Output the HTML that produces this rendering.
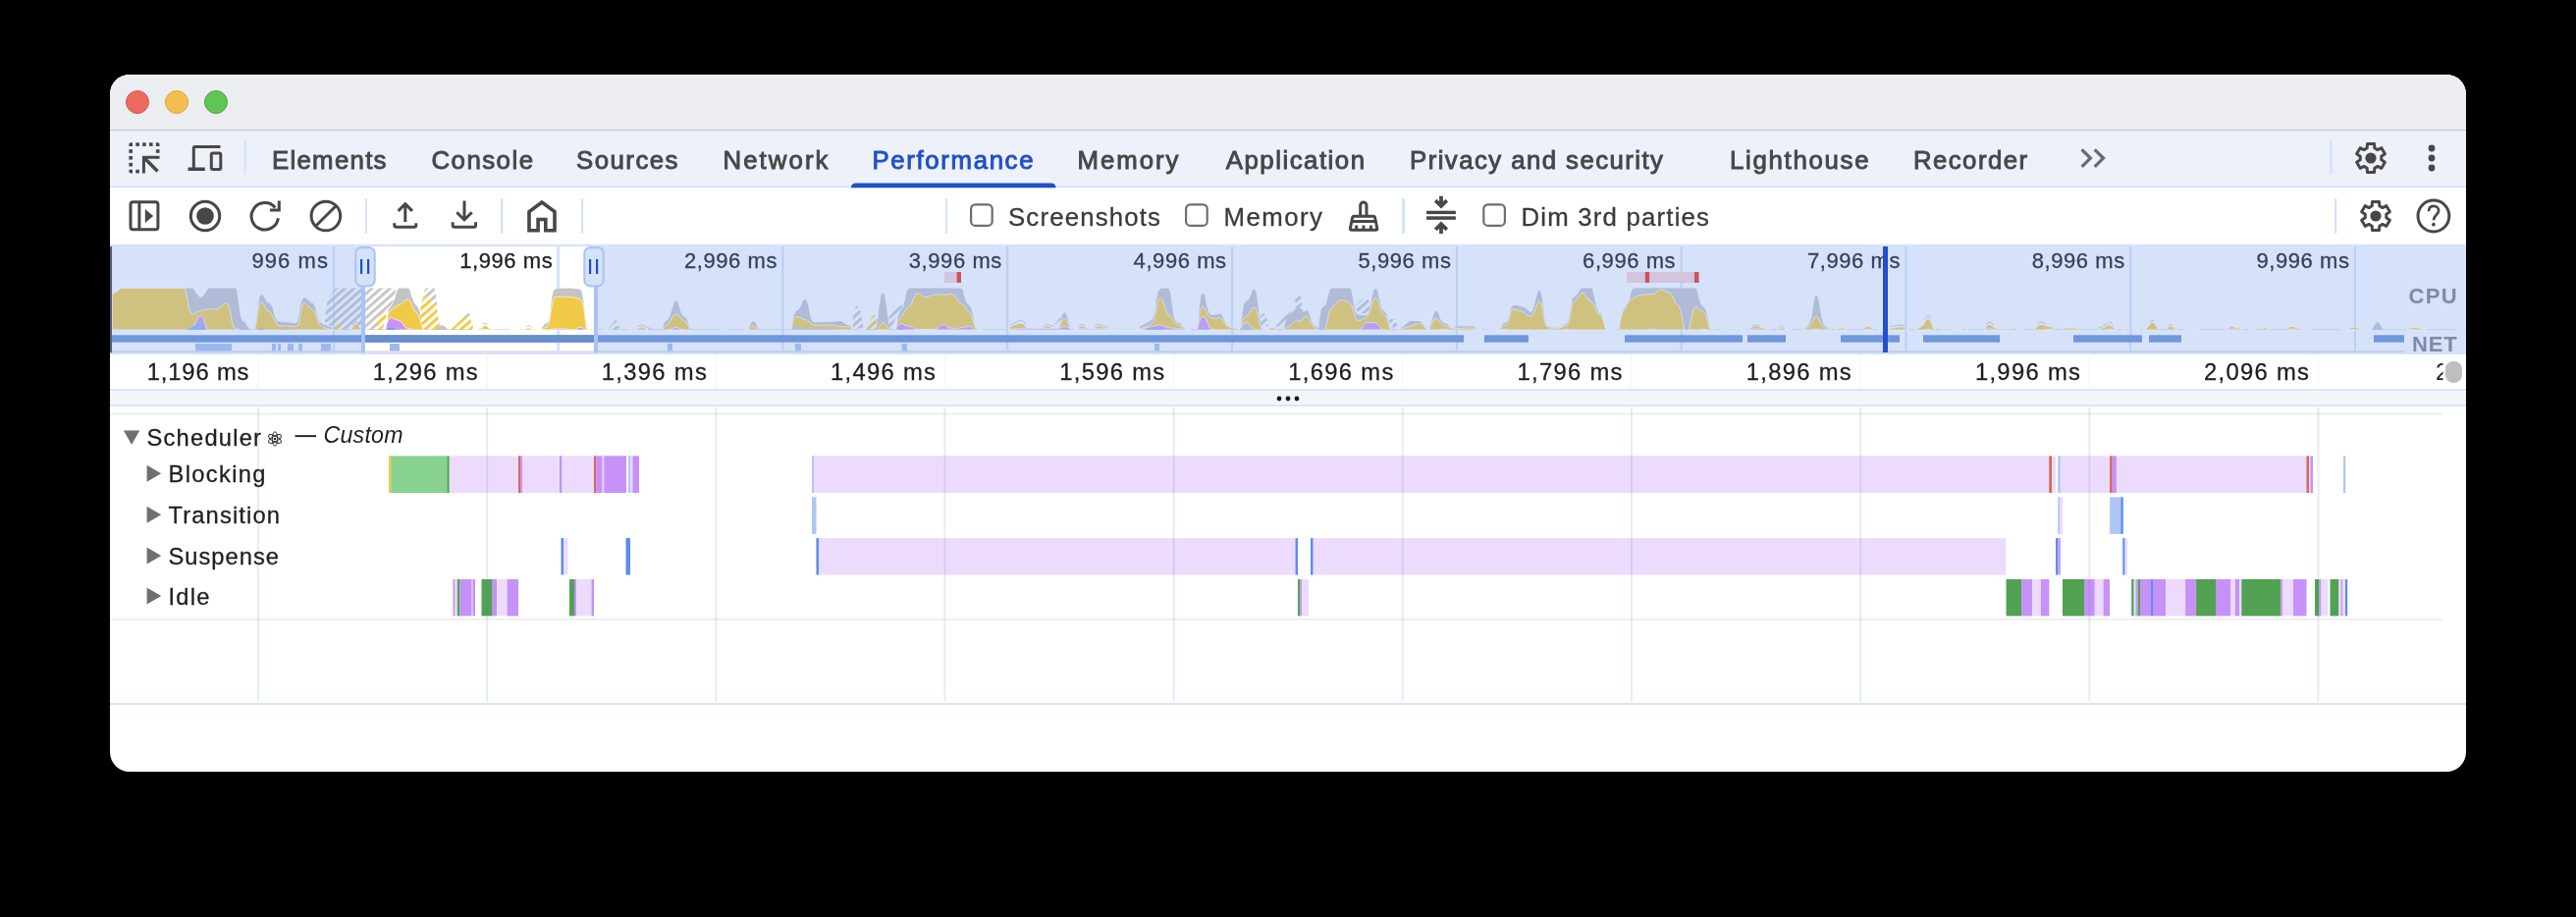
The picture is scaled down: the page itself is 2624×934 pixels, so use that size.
<!DOCTYPE html>
<html lang="en"><head><meta charset="utf-8"><title>DevTools - Performance</title>
<style>
html,body{margin:0;padding:0;background:#000;width:2624px;height:934px;overflow:hidden}
svg{display:block;position:absolute;left:0;top:0;will-change:transform}
text{font-family:'Liberation Sans',sans-serif;white-space:pre}
</style></head><body>
<svg width="2624" height="934" viewBox="0 0 2624 934">
<defs>
<clipPath id="win"><rect x="112" y="76" width="2400" height="710" rx="20" ry="20"/></clipPath>
<clipPath id="sel"><rect x="372" y="251" width="233.3" height="110"/></clipPath>
<clipPath id="unselL"><rect x="112" y="249" width="260" height="112"/></clipPath>
<clipPath id="unselR"><rect x="605.3" y="249" width="1907" height="112"/></clipPath>
<pattern id="hatchU" width="6.1" height="6.1" patternUnits="userSpaceOnUse" patternTransform="rotate(-41.6)"><rect x="0" y="0" width="6.1" height="3.0" fill="#b0bdd9"/></pattern>
<pattern id="hatchS" width="6.1" height="6.1" patternUnits="userSpaceOnUse" patternTransform="rotate(-41.6)"><rect x="0" y="0" width="6.1" height="3.0" fill="#c6c6c6"/></pattern>
<pattern id="hatchSY" width="6.1" height="6.1" patternUnits="userSpaceOnUse" patternTransform="rotate(-41.6)"><rect x="0" y="0" width="6.1" height="3.0" fill="#f0ca46"/></pattern>
<pattern id="hatchUY" width="6.1" height="6.1" patternUnits="userSpaceOnUse" patternTransform="rotate(-41.6)"><rect x="0" y="0" width="6.1" height="3.0" fill="#cfc080"/></pattern>
</defs>
<rect x="0" y="0" width="2624" height="934" fill="#000"/>
<g clip-path="url(#win)">

<rect x="112" y="76" width="2400" height="710" fill="#fff"/>
<rect x="112" y="76" width="2400" height="56.5" fill="#ecedf1"/>
<rect x="112" y="132" width="2400" height="1.5" fill="#c9cbd1"/>
<rect x="112" y="76" width="2400" height="1.2" fill="#f7f8fa"/>
<circle cx="140" cy="104" r="11.5" fill="#ed6a5e" stroke="#d8564b" stroke-width="1"/>
<circle cx="180" cy="104" r="11.5" fill="#f5bf4f" stroke="#dba33b" stroke-width="1"/>
<circle cx="220" cy="104" r="11.5" fill="#61c554" stroke="#4ea73f" stroke-width="1"/>
<rect x="112" y="133.5" width="2400" height="56.5" fill="#edf1fa"/>
<rect x="112" y="189.3" width="2400" height="1.9" fill="#d3e3fd"/>
<g fill="none" stroke="#474747" stroke-width="3">
<path d="M135.00 148.90 L131.40 148.90 L131.40 147.10 Q131.40 145.30 133.20 145.30 L135.00 145.30 Z" fill="#474747" stroke="none"/>
<rect x="138.3" y="145.3" width="3.6" height="3.6" fill="#474747" stroke="none"/>
<rect x="145.1" y="145.3" width="3.6" height="3.6" fill="#474747" stroke="none"/>
<rect x="152.0" y="145.3" width="3.6" height="3.6" fill="#474747" stroke="none"/>
<path d="M158.90 148.90 L162.50 148.90 L162.50 147.10 Q162.50 145.30 160.70 145.30 L158.90 145.30 Z" fill="#474747" stroke="none"/>
<rect x="131.4" y="152.2" width="3.6" height="3.6" fill="#474747" stroke="none"/>
<rect x="131.4" y="159.0" width="3.6" height="3.6" fill="#474747" stroke="none"/>
<rect x="131.4" y="165.9" width="3.6" height="3.6" fill="#474747" stroke="none"/>
<path d="M135.00 172.80 L131.40 172.80 L131.40 174.60 Q131.40 176.40 133.20 176.40 L135.00 176.40 Z" fill="#474747" stroke="none"/>
<rect x="158.9" y="152.2" width="3.6" height="3.6" fill="#474747" stroke="none"/>
<rect x="138.3" y="172.8" width="3.6" height="3.6" fill="#474747" stroke="none"/>
<path d="M162.5 160.3 H146.4 V176.6" stroke-linejoin="miter" stroke-width="3"/>
<path d="M147.4 161.3 L160.6 174.5" stroke-width="3.4"/>
</g>
<g fill="none" stroke="#474747" stroke-width="3" stroke-linejoin="miter">
<path d="M224.4 149.5 H198.7 Q197.3 149.5 197.3 151 V171"/>
<path d="M191.5 172.2 H208.8" stroke-width="3.5"/>
<rect x="215.3" y="155.9" width="9.5" height="16.5" rx="1.5"/>
</g>
<rect x="248.6" y="143.5" width="2.4" height="34" fill="#d3e3fd"/>
<text x="277" y="171.7" font-size="25.8" fill="#474747" text-anchor="start" font-weight="normal" font-style="normal" textLength="116.5" lengthAdjust="spacing" stroke="#474747" stroke-width="0.9">Elements</text>
<text x="439.5" y="171.7" font-size="25.8" fill="#474747" text-anchor="start" font-weight="normal" font-style="normal" textLength="103.5" lengthAdjust="spacing" stroke="#474747" stroke-width="0.9">Console</text>
<text x="587" y="171.7" font-size="25.8" fill="#474747" text-anchor="start" font-weight="normal" font-style="normal" textLength="103.5" lengthAdjust="spacing" stroke="#474747" stroke-width="0.9">Sources</text>
<text x="736.5" y="171.7" font-size="25.8" fill="#474747" text-anchor="start" font-weight="normal" font-style="normal" textLength="107.0" lengthAdjust="spacing" stroke="#474747" stroke-width="0.9">Network</text>
<text x="888.5" y="171.7" font-size="25.8" fill="#2050c8" text-anchor="start" font-weight="normal" font-style="normal" textLength="164.0" lengthAdjust="spacing" stroke="#2050c8" stroke-width="0.9">Performance</text>
<text x="1097.5" y="171.7" font-size="25.8" fill="#474747" text-anchor="start" font-weight="normal" font-style="normal" textLength="103.0" lengthAdjust="spacing" stroke="#474747" stroke-width="0.9">Memory</text>
<text x="1248.8" y="171.7" font-size="25.8" fill="#474747" text-anchor="start" font-weight="normal" font-style="normal" textLength="141.2" lengthAdjust="spacing" stroke="#474747" stroke-width="0.9">Application</text>
<text x="1436" y="171.7" font-size="25.8" fill="#474747" text-anchor="start" font-weight="normal" font-style="normal" textLength="258.0" lengthAdjust="spacing" stroke="#474747" stroke-width="0.9">Privacy and security</text>
<text x="1762" y="171.7" font-size="25.8" fill="#474747" text-anchor="start" font-weight="normal" font-style="normal" textLength="141.5" lengthAdjust="spacing" stroke="#474747" stroke-width="0.9">Lighthouse</text>
<text x="1949" y="171.7" font-size="25.8" fill="#474747" text-anchor="start" font-weight="normal" font-style="normal" textLength="116.0" lengthAdjust="spacing" stroke="#474747" stroke-width="0.9">Recorder</text>
<path d="M866.8 191.2 Q867.2 186.6 872 186.6 H1070.4 Q1075.2 186.6 1075.6 191.2 Z" fill="#2050c8"/>
<path d="M2120.6 152.3 L2129.4 161.1 L2120.6 169.9" fill="none" stroke="#6b6b6b" stroke-width="3.3"/>
<path d="M2133.7 152.3 L2142.5 161.1 L2133.7 169.9" fill="none" stroke="#6b6b6b" stroke-width="3.3"/>
<rect x="2373.2" y="143.5" width="2.6" height="34" fill="#d3e3fd"/>
<path d="M2418.82 150.79 L2418.50 146.41 L2411.50 146.41 L2411.18 150.79 L2408.07 152.59 L2404.12 150.67 L2400.62 156.74 L2404.25 159.20 L2404.25 162.80 L2400.62 165.26 L2404.12 171.33 L2408.07 169.41 L2411.18 171.21 L2411.50 175.59 L2418.50 175.59 L2418.82 171.21 L2421.93 169.41 L2425.88 171.33 L2429.38 165.26 L2425.75 162.80 L2425.75 159.20 L2429.38 156.74 L2425.88 150.67 L2421.93 152.59 Z" fill="none" stroke="#474747" stroke-width="3" stroke-linejoin="round"/>
<circle cx="2415" cy="161" r="5.6" fill="#474747"/>
<circle cx="2477" cy="151" r="3.4" fill="#474747"/>
<circle cx="2477" cy="161" r="3.4" fill="#474747"/>
<circle cx="2477" cy="171" r="3.4" fill="#474747"/>
<rect x="133" y="205.8" width="27.9" height="28" rx="2.5" fill="none" stroke="#474747" stroke-width="3"/>
<path d="M141.9 206 V233.6" fill="none" stroke="#474747" stroke-width="3"/>
<path d="M147.8 213 L156.2 220 L147.8 227 Z" fill="#474747"/>
<circle cx="209" cy="220" r="14.7" fill="none" stroke="#474747" stroke-width="3"/>
<circle cx="209" cy="220" r="8.8" fill="#474747"/>
<path d="M280.29 211.49 A13.7 13.7 0 1 0 283.37 222.21" fill="none" stroke="#474747" stroke-width="3"/>
<path d="M284.3 204.6 V214 H274.9" fill="none" stroke="#474747" stroke-width="3" stroke-linejoin="miter"/>
<circle cx="331.9" cy="220" r="14.8" fill="none" stroke="#474747" stroke-width="3"/>
<path d="M321.6 230.3 L342.2 209.7" fill="none" stroke="#474747" stroke-width="3"/>
<rect x="371.8" y="202.2" width="2.2" height="35.6" fill="#d3e3fd"/>
<rect x="510" y="202.2" width="2.2" height="35.6" fill="#d3e3fd"/>
<rect x="592" y="202.2" width="2.2" height="35.6" fill="#d3e3fd"/>
<path d="M412.8 226 V207.5 M405.6 214.9 L412.8 207.7 L420 214.9" fill="none" stroke="#474747" stroke-width="3"/>
<path d="M401.8 227.2 V229.3 Q401.8 231.3 403.8 231.3 H421.8 Q423.8 231.3 423.8 229.3 V227.2" fill="none" stroke="#474747" stroke-width="3"/>
<path d="M473 204.4 V223.5 M465.3 216.3 L473 224 L480.7 216.3" fill="none" stroke="#474747" stroke-width="3"/>
<path d="M461.2 226.3 V229.3 Q461.2 231.3 463.2 231.3 H482.6 Q484.6 231.3 484.6 229.3 V226.3" fill="none" stroke="#474747" stroke-width="3" stroke-width="3.2"/>
<path d="M539 234.8 V215.6 L552 206 L565 215.6 V234.8 H555.8 V223.5 H548.1 V234.8 Z" fill="none" stroke="#474747" stroke-width="3.6" stroke-linejoin="miter"/>
<rect x="963" y="202.2" width="2.2" height="35.6" fill="#d3e3fd"/>
<rect x="989.1" y="208.3" width="21.6" height="21.6" rx="4.5" fill="#fff" stroke="#6e6e6e" stroke-width="2.2"/>
<text x="1027" y="229.5" font-size="25.8" fill="#3b3b3b" text-anchor="start" font-weight="normal" font-style="normal" textLength="155.0" lengthAdjust="spacing" stroke="#3b3b3b" stroke-width="0.3">Screenshots</text>
<rect x="1208.1" y="208.3" width="21.6" height="21.6" rx="4.5" fill="#fff" stroke="#6e6e6e" stroke-width="2.2"/>
<text x="1246.5" y="229.5" font-size="25.8" fill="#3b3b3b" text-anchor="start" font-weight="normal" font-style="normal" textLength="100.5" lengthAdjust="spacing" stroke="#3b3b3b" stroke-width="0.3">Memory</text>
<g fill="none" stroke="#474747" stroke-width="3" stroke-linejoin="round" stroke-linecap="round">
<path d="M1385.7 219.5 V209.2 A3.15 3.15 0 0 1 1392 209.2 V219.5"/>
<path d="M1379.5 220.2 H1398.7 Q1400.3 220.2 1400.6 221.8 L1402.8 232.5 Q1403.1 234.2 1401.4 234.2 H1376.8 Q1375.1 234.2 1375.4 232.5 L1377.6 221.8 Q1377.9 220.2 1379.5 220.2 Z"/>
<path d="M1377.3 225.5 H1400.9" stroke-linecap="butt"/>
<path d="M1381.7 229.5 V233 M1389 229.5 V233 M1396.4 229.5 V233" stroke-linecap="butt"/>
</g>
<rect x="1428" y="202.2" width="3" height="35.6" fill="#d3e3fd"/>
<rect x="1453.1" y="214.7" width="29.8" height="3.4" fill="#474747"/>
<rect x="1453.1" y="220.3" width="29.8" height="3.5" fill="#474747"/>
<path d="M1468 199.7 V210 M1462.2 204.1 L1468 209.9 L1473.8 204.1" fill="none" stroke="#474747" stroke-width="3.8"/>
<path d="M1468 238.1 V228 M1462.2 233.9 L1468 228.1 L1473.8 233.9" fill="none" stroke="#474747" stroke-width="3.8"/>
<rect x="1511.3" y="208.3" width="21.6" height="21.6" rx="4.5" fill="#fff" stroke="#6e6e6e" stroke-width="2.2"/>
<text x="1549.5" y="229.5" font-size="25.8" fill="#3b3b3b" text-anchor="start" font-weight="normal" font-style="normal" textLength="191.5" lengthAdjust="spacing" stroke="#3b3b3b" stroke-width="0.3">Dim 3rd parties</text>
<rect x="2378" y="202.2" width="2.2" height="35.6" fill="#d3e3fd"/>
<path d="M2423.82 209.79 L2423.50 205.41 L2416.50 205.41 L2416.18 209.79 L2413.07 211.59 L2409.12 209.67 L2405.62 215.74 L2409.25 218.20 L2409.25 221.80 L2405.62 224.26 L2409.12 230.33 L2413.07 228.41 L2416.18 230.21 L2416.50 234.59 L2423.50 234.59 L2423.82 230.21 L2426.93 228.41 L2430.88 230.33 L2434.38 224.26 L2430.75 221.80 L2430.75 218.20 L2434.38 215.74 L2430.88 209.67 L2426.93 211.59 Z" fill="none" stroke="#474747" stroke-width="3" stroke-linejoin="round"/>
<circle cx="2420" cy="220" r="5.6" fill="#474747"/>
<circle cx="2478.9" cy="220" r="15.9" fill="none" stroke="#474747" stroke-width="3"/>
<path d="M2474 215.3 C2474 211.6 2476 209.9 2479 209.9 C2482 209.9 2484.1 211.8 2484.1 214.5 C2484.1 218.8 2478.9 219.2 2478.9 224.3" fill="none" stroke="#474747" stroke-width="2.7"/>
<circle cx="2478.9" cy="228.7" r="1.9" fill="#474747"/>
<rect x="112" y="248.8" width="2400" height="112.2" fill="#d6e2fa"/>
<rect x="372" y="251" width="233.3" height="108.2" fill="#fff"/>
<rect x="112" y="357" width="2337" height="2.2" fill="#c4d0e9"/>
<rect x="372" y="357" width="233.3" height="2.2" fill="#e2e2e2"/>
<rect x="338.9" y="251" width="2" height="108" fill="#b8cef8"/>
<rect x="567.1" y="251" width="3" height="108" fill="#d6e3fc"/>
<rect x="796.5" y="251" width="2" height="108" fill="#b8cef8"/>
<rect x="1025.3" y="251" width="2" height="108" fill="#b8cef8"/>
<rect x="1254.1" y="251" width="2" height="108" fill="#b8cef8"/>
<rect x="1482.9" y="251" width="2" height="108" fill="#b8cef8"/>
<rect x="1711.6" y="251" width="2" height="108" fill="#b8cef8"/>
<rect x="1940.4" y="251" width="2" height="108" fill="#b8cef8"/>
<rect x="2169.2" y="251" width="2" height="108" fill="#b8cef8"/>
<rect x="2398.0" y="251" width="2" height="108" fill="#b8cef8"/>
<text x="256.4" y="273" font-size="22" fill="#36425c" text-anchor="start" font-weight="normal" font-style="normal" textLength="77.5" lengthAdjust="spacing" stroke="#36425c" stroke-width="0.3">996 ms</text>
<text x="468.2" y="273" font-size="22" fill="#1f1f1f" text-anchor="start" font-weight="normal" font-style="normal" textLength="94.5" lengthAdjust="spacing" stroke="#1f1f1f" stroke-width="0.3">1,996 ms</text>
<text x="697.0" y="273" font-size="22" fill="#36425c" text-anchor="start" font-weight="normal" font-style="normal" textLength="94.5" lengthAdjust="spacing" stroke="#36425c" stroke-width="0.3">2,996 ms</text>
<text x="925.8" y="273" font-size="22" fill="#36425c" text-anchor="start" font-weight="normal" font-style="normal" textLength="94.5" lengthAdjust="spacing" stroke="#36425c" stroke-width="0.3">3,996 ms</text>
<text x="1154.6" y="273" font-size="22" fill="#36425c" text-anchor="start" font-weight="normal" font-style="normal" textLength="94.5" lengthAdjust="spacing" stroke="#36425c" stroke-width="0.3">4,996 ms</text>
<text x="1383.4" y="273" font-size="22" fill="#36425c" text-anchor="start" font-weight="normal" font-style="normal" textLength="94.5" lengthAdjust="spacing" stroke="#36425c" stroke-width="0.3">5,996 ms</text>
<text x="1612.1" y="273" font-size="22" fill="#36425c" text-anchor="start" font-weight="normal" font-style="normal" textLength="94.5" lengthAdjust="spacing" stroke="#36425c" stroke-width="0.3">6,996 ms</text>
<text x="1840.9" y="273" font-size="22" fill="#36425c" text-anchor="start" font-weight="normal" font-style="normal" textLength="94.5" lengthAdjust="spacing" stroke="#36425c" stroke-width="0.3">7,996 ms</text>
<text x="2069.7" y="273" font-size="22" fill="#36425c" text-anchor="start" font-weight="normal" font-style="normal" textLength="94.5" lengthAdjust="spacing" stroke="#36425c" stroke-width="0.3">8,996 ms</text>
<text x="2298.5" y="273" font-size="22" fill="#36425c" text-anchor="start" font-weight="normal" font-style="normal" textLength="94.5" lengthAdjust="spacing" stroke="#36425c" stroke-width="0.3">9,996 ms</text>
<clipPath id="cpuU"><rect x="112" y="290" width="260" height="47"/><rect x="605.3" y="290" width="1907" height="47"/></clipPath>
<clipPath id="cpuS"><rect x="372" y="290" width="233.3" height="47"/></clipPath>
<path d="M112 335.6 H2512" stroke="#c2cbe1" stroke-width="0.9" stroke-dasharray="30 9 16 7 44 12" fill="none" clip-path="url(#cpuU)"/>
<path d="M372 335.6 H605" stroke="#dcdcdc" stroke-width="0.9" stroke-dasharray="30 9 16 7 44 12" fill="none"/>
<g clip-path="url(#cpuU)"><path d="M330.9 327.6 L332.7 311.3 L334.4 303.1 L342.0 293.4 L403.4 293.4 L401.7 303.1 L398.8 310.1 L395.3 315.9 L389.5 322.9 L383.6 334.6 L382.5 336.0 L343.7 336.0 L340.3 334.1 L335.6 331.8Z" fill="url(#hatchU)"/>
<path d="M430.2 305.5 L432.0 296.2 L433.7 293.4 L442.5 293.4 L443.6 298.5 L444.8 307.8 L445.4 313.0 L441.9 309.0 L437.2 304.3 L433.7 300.8Z" fill="url(#hatchU)"/>
<path d="M469.8 325.3 L476.8 318.5 L478.6 319.4 L477.4 323.5 L474.5 322.9Z" fill="url(#hatchU)"/>
<path d="M617.1 335.2 L620.0 334.0 L627.0 325.8 L629.0 327.0 L628.2 329.9 L626.5 332.3 L631.1 332.3 L632.6 335.2Z" fill="url(#hatchU)"/>
<path d="M868.4 327.0 L870.2 318.3 L871.9 311.9 L874.0 311.9 L876.0 315.9 L877.7 324.1 L878.9 331.1 L879.5 334.6 L869.0 334.6Z" fill="url(#hatchU)"/>
<path d="M905.4 322.9 L918.2 308.0 L919.5 310.7 L918.2 314.8 L915.3 319.4 L912.4 324.1 L910.6 328.8 L907.1 334.0 L905.7 332.8Z" fill="url(#hatchU)"/>
<path d="M1071.9 333.4 L1079.5 323.5 L1081.4 324.1 L1079.5 327.6 L1077.2 332.8Z" fill="url(#hatchU)"/>
<path d="M1283.6 322.9 L1286.5 318.9 L1288.5 320.0 L1291.2 326.4 L1291.7 331.7 L1285.9 332.8 L1284.8 331.1Z" fill="url(#hatchU)"/>
<path d="M1299.9 332.3 L1306.9 324.1 L1314.5 316.5 L1315.7 318.3 L1313.3 321.8 L1309.8 326.4 L1308.0 331.7 L1301.1 334.0Z" fill="url(#hatchU)"/>
<path d="M1318.8 305.5 L1323.0 299.2 L1324.6 301.0 L1325.8 305.5 L1326.3 310.7 L1328.1 313.0 L1323.2 313.9 L1318.5 314.2 L1320.3 310.1Z" fill="url(#hatchU)"/>
<path d="M1380.8 311.3 L1384.9 306.6 L1391.9 303.1 L1395.4 307.8 L1394.8 314.8 L1391.9 319.4 L1384.9 318.9 L1381.4 315.9Z" fill="url(#hatchU)"/>
<path d="M1414.0 321.8 L1416.9 325.3 L1421.0 325.3 L1422.4 328.8 L1423.9 332.3 L1419.8 334.6 L1416.4 329.9 L1414.6 326.4Z" fill="url(#hatchU)"/>
<path d="M114.3 336.0 L114.3 299.6 L116.7 298.0 L119.0 297.3 L122.5 294.1 L124.8 293.4 L196.4 293.4 L198.8 296.7 L202.3 302.0 L205.2 302.9 L207.5 300.8 L212.2 293.8 L214.5 293.4 L240.1 293.4 L241.3 296.7 L243.0 309.0 L244.8 321.8 L246.5 326.4 L249.4 328.2 L251.7 331.7 L254.1 335.5 L255.8 336.0 L255.8 336.0Z" fill="#afbbd7"/>
<path d="M259.0 336.0 L259.0 336.0 L260.5 331.1 L262.2 317.1 L264.0 304.3 L265.7 300.2 L267.5 300.6 L269.8 304.3 L272.7 308.4 L275.6 309.5 L277.4 313.0 L279.7 321.8 L282.0 327.0 L285.5 327.8 L293.7 328.2 L299.5 329.3 L302.4 328.8 L304.2 322.9 L306.5 309.0 L308.8 303.7 L310.6 303.1 L313.5 305.5 L317.0 308.4 L319.3 309.0 L321.6 314.8 L323.4 322.9 L325.1 327.6 L328.6 329.9 L333.3 331.7 L337.9 334.0 L340.8 335.2 L340.8 336.0Z" fill="#afbbd7"/>
<path d="M395.3 336.0 L395.3 315.9 L398.8 311.3 L402.3 304.3 L404.0 297.3 L405.8 293.8 L409.3 293.4 L415.7 293.4 L417.4 295.0 L419.7 303.1 L422.1 309.0 L425.0 311.9 L427.3 317.1 L428.5 321.8 L430.2 336.0 L430.2 336.0Z" fill="#afbbd7"/>
<path d="M443.0 336.0 L443.0 336.0 L446.5 332.8 L450.0 331.1 L453.5 332.8 L456.4 336.0 L456.4 336.0Z" fill="#afbbd7"/>
<path d="M551.9 336.0 L551.9 336.0 L552.3 333.4 L554.8 329.9 L558.3 328.2 L560.1 322.9 L561.8 305.5 L563.6 296.7 L565.3 294.4 L570.0 293.8 L581.6 293.6 L589.8 294.4 L592.1 295.6 L593.3 300.8 L594.4 307.8 L595.6 318.3 L596.8 327.6 L597.9 334.6 L598.5 336.0 L598.5 336.0Z" fill="#afbbd7"/>
<path d="M674.5 336.0 L674.5 336.0 L676.8 328.8 L679.7 326.4 L682.7 321.8 L685.0 313.0 L687.3 307.2 L689.1 306.1 L690.8 308.4 L692.6 315.4 L694.9 321.2 L698.4 323.5 L700.1 326.4 L701.9 332.8 L703.6 336.0 L703.6 336.0Z" fill="#afbbd7"/>
<path d="M762.4 336.0 L762.4 336.0 L763.0 334.0 L765.3 328.8 L767.1 327.0 L769.4 328.2 L771.2 332.3 L772.3 334.6 L772.9 336.0 L772.9 336.0Z" fill="#afbbd7"/>
<path d="M806.1 336.0 L806.1 336.0 L807.3 327.6 L809.0 320.6 L811.3 316.5 L813.7 315.4 L816.0 311.3 L818.3 306.1 L820.1 304.5 L821.8 306.1 L823.6 312.5 L825.3 321.8 L827.1 327.0 L828.8 328.2 L837.0 328.2 L853.3 327.6 L857.3 327.0 L859.1 328.8 L862.0 330.5 L866.1 331.7 L867.8 334.0 L868.4 336.0 L868.4 336.0Z" fill="#afbbd7"/>
<path d="M892.3 336.0 L892.3 336.0 L894.0 327.6 L895.8 311.3 L897.5 300.8 L899.3 297.9 L901.0 300.2 L902.8 311.3 L904.5 325.3 L906.3 334.6 L906.8 336.0 L906.8 336.0Z" fill="#afbbd7"/>
<path d="M913.0 336.0 L913.0 336.0 L914.7 322.9 L917.0 317.1 L919.9 313.0 L921.7 306.6 L923.4 297.3 L925.2 294.4 L926.9 293.6 L978.8 293.6 L980.5 295.0 L982.3 302.0 L984.0 307.8 L985.7 310.1 L988.1 311.9 L989.8 315.9 L991.0 320.6 L992.4 329.9 L993.9 334.0 L996.8 335.7 L1000.9 336.0 L1000.9 336.0Z" fill="#afbbd7"/>
<path d="M1078.3 336.0 L1078.3 334.6 L1080.7 326.4 L1082.4 320.0 L1084.2 318.0 L1085.9 319.7 L1087.6 324.7 L1089.4 331.7 L1090.6 334.6 L1090.6 336.0Z" fill="#afbbd7"/>
<path d="M1159.6 336.0 L1159.6 334.6 L1162.5 331.7 L1169.5 328.2 L1174.1 325.3 L1176.5 318.3 L1178.2 304.3 L1179.9 296.7 L1182.3 294.1 L1185.8 293.6 L1190.4 293.8 L1192.2 298.5 L1193.9 311.3 L1195.7 322.9 L1198.0 328.2 L1202.1 329.3 L1204.4 332.8 L1206.7 334.6 L1206.7 336.0Z" fill="#afbbd7"/>
<path d="M1219.0 336.0 L1219.0 336.0 L1220.7 326.4 L1221.9 311.3 L1223.6 300.8 L1225.4 298.2 L1227.1 300.8 L1228.9 310.1 L1231.2 318.3 L1233.5 321.2 L1238.2 320.6 L1242.8 319.4 L1245.2 321.8 L1246.9 326.4 L1249.2 331.1 L1252.2 332.8 L1256.8 334.0 L1260.3 334.6 L1260.3 336.0Z" fill="#afbbd7"/>
<path d="M1263.2 336.0 L1263.2 336.0 L1264.4 328.8 L1265.5 319.4 L1267.3 310.1 L1269.6 306.6 L1271.9 305.5 L1274.3 300.2 L1276.0 295.6 L1277.8 294.8 L1279.5 297.3 L1280.7 305.5 L1281.8 314.8 L1283.0 322.9 L1284.8 331.1 L1285.9 336.0 L1285.9 336.0Z" fill="#afbbd7"/>
<path d="M1308.0 336.0 L1308.0 334.6 L1309.8 327.6 L1311.5 322.9 L1315.0 320.0 L1318.5 315.9 L1321.4 313.9 L1324.4 313.9 L1326.7 315.4 L1327.8 318.3 L1329.0 317.1 L1330.8 315.9 L1332.5 317.1 L1334.3 321.8 L1336.0 327.6 L1338.3 331.7 L1341.8 333.4 L1344.2 336.0 L1344.2 336.0Z" fill="#afbbd7"/>
<path d="M1343.0 336.0 L1343.0 336.0 L1344.2 325.3 L1345.9 314.8 L1348.2 311.9 L1350.6 310.7 L1352.3 304.3 L1354.0 296.7 L1355.8 294.1 L1358.1 293.6 L1374.4 293.6 L1376.2 295.0 L1377.9 303.1 L1379.1 311.3 L1380.3 317.1 L1382.0 320.0 L1384.9 321.0 L1391.9 321.2 L1393.6 320.0 L1396.0 311.3 L1397.7 302.0 L1399.5 295.6 L1401.2 293.8 L1403.0 295.6 L1404.7 303.1 L1406.5 311.3 L1408.2 315.4 L1410.5 317.1 L1412.3 320.0 L1414.0 326.4 L1415.8 332.3 L1416.9 336.0 L1416.9 336.0Z" fill="#afbbd7"/>
<path d="M1423.3 336.0 L1423.3 336.0 L1429.2 332.8 L1433.8 328.8 L1436.2 327.0 L1445.5 327.0 L1448.4 328.8 L1452.0 334.0 L1454.8 336.0 L1454.8 336.0Z" fill="#afbbd7"/>
<path d="M1455.1 336.0 L1455.1 336.0 L1456.8 332.3 L1458.6 326.4 L1460.3 320.6 L1462.1 316.5 L1463.8 316.9 L1465.6 320.6 L1467.3 325.3 L1469.6 328.8 L1474.9 330.5 L1477.2 333.4 L1479.5 334.6 L1481.9 333.4 L1487.7 332.3 L1500.5 332.5 L1504.0 334.6 L1505.2 336.0 L1505.2 336.0Z" fill="#afbbd7"/>
<path d="M1528.5 336.0 L1528.5 334.6 L1530.8 329.9 L1535.4 327.6 L1537.8 320.6 L1539.5 313.0 L1541.8 310.7 L1544.8 311.1 L1549.4 312.2 L1552.9 313.0 L1556.4 315.9 L1559.3 318.0 L1561.1 316.5 L1562.8 311.3 L1564.6 304.3 L1566.3 297.9 L1568.0 295.2 L1569.8 297.9 L1571.0 305.5 L1572.1 313.6 L1573.3 322.9 L1574.5 329.9 L1576.2 332.8 L1584.4 334.0 L1590.2 333.4 L1593.7 330.5 L1596.0 329.9 L1597.7 326.4 L1600.1 313.6 L1601.8 304.3 L1604.2 302.0 L1607.6 298.5 L1609.4 295.0 L1611.1 293.6 L1621.6 293.6 L1622.8 297.3 L1624.5 305.5 L1626.3 313.6 L1628.6 318.5 L1631.5 320.4 L1633.3 327.6 L1635.0 334.0 L1636.2 336.0 L1636.2 336.0Z" fill="#afbbd7"/>
<path d="M1648.9 336.0 L1648.9 336.0 L1650.5 326.4 L1652.8 317.1 L1656.3 311.3 L1659.8 305.5 L1661.8 297.3 L1663.6 293.6 L1726.7 293.6 L1728.5 295.6 L1730.2 302.0 L1732.0 309.0 L1734.9 312.5 L1737.2 314.8 L1738.6 319.4 L1740.1 327.6 L1741.9 334.6 L1742.5 336.0 L1742.5 336.0Z" fill="#afbbd7"/>
<path d="M1835.6 336.0 L1835.6 336.0 L1839.7 333.4 L1843.2 330.5 L1845.5 322.9 L1847.3 310.1 L1849.0 301.4 L1850.2 300.6 L1851.9 303.1 L1853.7 313.6 L1855.4 324.1 L1857.2 330.5 L1859.5 332.8 L1863.0 334.6 L1865.3 336.0 L1865.3 336.0Z" fill="#afbbd7"/>
<path d="M2416.4 336.0 L2416.4 335.5 L2418.7 331.7 L2420.5 328.2 L2422.8 328.2 L2425.1 332.0 L2427.4 335.5 L2427.4 336.0Z" fill="#afbbd7"/>
<path d="M339.1 336.0 L339.1 333.2 L344.3 328.8 L346.3 329.5 L350.7 336.0 L350.7 336.0Z" fill="url(#hatchUY)"/>
<path d="M383.1 336.0 L383.1 336.0 L386.6 320.6 L389.5 317.7 L391.8 318.9 L393.5 322.9 L392.4 327.6 L389.5 336.0 L389.5 336.0Z" fill="url(#hatchUY)"/>
<path d="M428.5 336.0 L428.5 336.0 L428.5 313.0 L430.2 305.5 L433.7 300.8 L437.2 304.3 L441.9 309.0 L444.8 313.0 L446.5 322.9 L447.7 331.1 L448.3 336.0 L448.3 336.0Z" fill="url(#hatchUY)"/>
<path d="M458.8 336.0 L458.8 336.0 L464.0 331.1 L469.8 325.3 L474.5 322.9 L476.8 324.1 L479.7 326.4 L481.5 331.1 L482.1 336.0 L482.1 336.0Z" fill="url(#hatchUY)"/>
<path d="M882.4 336.0 L882.4 336.0 L888.2 322.9 L890.5 320.6 L893.4 324.1 L894.0 336.0 L894.0 336.0Z" fill="url(#hatchUY)"/>
<path d="M114.3 336.0 L114.3 299.6 L116.7 298.0 L119.0 297.3 L122.5 294.1 L124.8 293.4 L187.7 293.4 L189.1 296.2 L191.2 306.6 L192.9 315.4 L194.7 319.2 L197.0 320.0 L200.5 318.0 L205.2 316.2 L212.2 315.0 L221.5 314.6 L225.0 313.0 L227.9 309.5 L230.2 308.4 L232.5 310.1 L234.3 315.9 L236.0 326.4 L237.8 332.8 L240.1 334.8 L244.8 336.0 L244.8 336.0Z" fill="#cfc180" stroke="#e4ebfb" stroke-width="0.9" stroke-opacity="0.75"/>
<path d="M259.0 336.0 L259.0 336.0 L261.1 328.8 L262.8 317.1 L264.6 308.4 L266.3 307.2 L268.6 310.1 L272.1 315.9 L275.6 318.3 L277.9 321.8 L280.3 327.0 L282.6 331.1 L285.5 332.3 L291.3 331.7 L296.0 332.3 L300.7 332.8 L304.2 331.1 L305.9 320.6 L308.2 309.5 L310.6 308.4 L314.0 311.9 L317.5 314.8 L320.5 316.5 L322.8 324.1 L325.1 330.5 L328.6 332.8 L333.3 334.6 L339.1 335.7 L340.8 336.0 L340.8 336.0Z" fill="#cfc180" stroke="#e4ebfb" stroke-width="0.9" stroke-opacity="0.75"/>
<path d="M357.1 336.0 L357.1 336.0 L359.5 332.5 L362.4 329.7 L364.7 330.6 L367.6 336.0 L367.6 336.0Z" fill="#cfc180" stroke="#e4ebfb" stroke-width="0.9" stroke-opacity="0.75"/>
<path d="M393.5 336.0 L393.5 336.0 L394.7 322.9 L396.5 317.1 L399.9 314.8 L404.6 311.3 L409.3 309.0 L413.3 305.5 L415.7 304.9 L418.0 307.2 L420.3 313.0 L422.1 316.5 L425.6 319.4 L427.3 324.1 L429.1 330.5 L430.8 334.6 L432.6 336.0 L432.6 336.0Z" fill="#cfc180" stroke="#e4ebfb" stroke-width="0.9" stroke-opacity="0.75"/>
<path d="M485.0 336.0 L485.0 336.0 L490.8 334.0 L493.7 331.3 L496.0 332.0 L498.9 335.2 L500.1 336.0 L500.1 336.0Z" fill="#cfc180" stroke="#e4ebfb" stroke-width="0.9" stroke-opacity="0.75"/>
<path d="M533.3 336.0 L533.3 336.0 L536.8 334.3 L539.1 334.0 L542.0 335.2 L543.8 336.0 L543.8 336.0Z" fill="#cfc180" stroke="#e4ebfb" stroke-width="0.9" stroke-opacity="0.75"/>
<path d="M550.2 336.0 L550.2 336.0 L553.7 334.6 L557.2 332.8 L559.5 328.8 L561.2 317.1 L563.0 306.6 L564.7 302.9 L567.6 302.2 L577.0 302.2 L586.3 303.1 L590.9 304.9 L593.3 307.8 L595.0 315.9 L596.2 326.4 L597.3 333.4 L598.5 336.0 L598.5 336.0Z" fill="#cfc180" stroke="#e4ebfb" stroke-width="0.9" stroke-opacity="0.75"/>
<path d="M600.3 336.0 L600.3 336.0 L602.6 334.6 L603.7 336.0 L603.7 336.0Z" fill="#cfc180" stroke="#e4ebfb" stroke-width="0.9" stroke-opacity="0.75"/>
<path d="M617.1 336.0 L617.1 336.0 L621.2 334.3 L622.6 336.0 L622.6 336.0Z" fill="#cfc180" stroke="#e4ebfb" stroke-width="0.9" stroke-opacity="0.75"/>
<path d="M647.1 336.0 L647.1 336.0 L650.6 334.0 L653.5 332.8 L656.5 334.0 L659.9 336.0 L659.9 336.0Z" fill="#cfc180" stroke="#e4ebfb" stroke-width="0.9" stroke-opacity="0.75"/>
<path d="M673.9 336.0 L673.9 336.0 L676.8 332.8 L680.9 329.9 L683.8 325.3 L686.2 321.2 L688.5 319.4 L690.8 320.6 L693.1 323.5 L695.5 325.8 L699.0 328.2 L701.3 332.8 L703.3 336.0 L703.3 336.0Z" fill="#cfc180" stroke="#e4ebfb" stroke-width="0.9" stroke-opacity="0.75"/>
<path d="M761.3 336.0 L761.3 336.0 L764.2 333.7 L767.1 331.7 L769.4 332.8 L771.7 335.2 L772.9 336.0 L772.9 336.0Z" fill="#cfc180" stroke="#e4ebfb" stroke-width="0.9" stroke-opacity="0.75"/>
<path d="M806.1 336.0 L806.1 336.0 L807.3 329.3 L809.0 323.5 L811.9 322.1 L815.4 323.5 L818.3 325.3 L821.8 325.8 L824.7 328.2 L827.6 330.5 L832.3 331.3 L841.6 331.1 L848.6 330.9 L853.3 332.3 L859.1 332.8 L864.9 332.8 L867.8 334.6 L868.4 336.0 L868.4 336.0Z" fill="#cfc180" stroke="#e4ebfb" stroke-width="0.9" stroke-opacity="0.75"/>
<path d="M893.4 336.0 L893.4 336.0 L895.8 332.8 L898.1 329.3 L899.8 328.5 L902.2 330.5 L905.1 335.2 L905.7 336.0 L905.7 336.0Z" fill="#cfc180" stroke="#e4ebfb" stroke-width="0.9" stroke-opacity="0.75"/>
<path d="M913.0 336.0 L913.0 331.1 L914.7 326.4 L918.8 322.4 L922.3 315.9 L925.2 312.5 L928.1 310.1 L930.4 304.3 L932.8 299.6 L935.1 298.7 L937.4 299.6 L940.3 302.0 L943.2 302.9 L946.7 301.7 L951.4 299.9 L957.2 300.0 L963.0 300.2 L968.9 299.4 L971.8 300.0 L974.1 303.1 L976.4 307.2 L978.8 309.0 L981.7 310.7 L984.6 315.4 L987.5 317.7 L989.2 320.0 L991.0 325.3 L992.4 331.1 L993.9 334.0 L996.8 335.7 L1000.9 336.0 L1000.9 336.0Z" fill="#cfc180" stroke="#e4ebfb" stroke-width="0.9" stroke-opacity="0.75"/>
<path d="M1026.5 336.0 L1026.5 336.0 L1029.4 332.8 L1034.1 330.5 L1038.7 329.0 L1042.2 329.7 L1044.6 332.3 L1046.3 334.0 L1048.0 336.0 L1048.0 336.0Z" fill="#cfc180" stroke="#e4ebfb" stroke-width="0.9" stroke-opacity="0.75"/>
<path d="M1061.4 336.0 L1061.4 334.6 L1064.4 332.5 L1067.8 332.0 L1071.3 333.4 L1073.7 334.6 L1073.7 336.0Z" fill="#cfc180" stroke="#e4ebfb" stroke-width="0.9" stroke-opacity="0.75"/>
<path d="M1078.3 336.0 L1078.3 334.6 L1080.7 329.3 L1083.0 325.3 L1084.7 324.7 L1087.1 327.0 L1089.4 332.8 L1090.6 334.6 L1090.6 336.0Z" fill="#cfc180" stroke="#e4ebfb" stroke-width="0.9" stroke-opacity="0.75"/>
<path d="M1097.5 336.0 L1097.5 334.6 L1100.5 332.5 L1103.4 332.0 L1105.7 333.4 L1107.4 334.6 L1107.4 336.0Z" fill="#cfc180" stroke="#e4ebfb" stroke-width="0.9" stroke-opacity="0.75"/>
<path d="M1113.8 336.0 L1113.8 334.6 L1116.8 332.8 L1120.3 332.0 L1123.7 333.2 L1126.1 334.6 L1126.1 336.0Z" fill="#cfc180" stroke="#e4ebfb" stroke-width="0.9" stroke-opacity="0.75"/>
<path d="M1159.6 336.0 L1159.6 335.2 L1166.0 333.4 L1171.8 330.5 L1175.3 327.6 L1177.0 320.6 L1178.8 310.1 L1180.5 304.3 L1182.3 302.9 L1184.0 304.9 L1185.8 310.1 L1188.1 317.1 L1190.4 320.6 L1192.8 322.4 L1195.1 326.4 L1198.0 329.9 L1202.1 331.7 L1204.4 334.0 L1206.7 335.2 L1206.7 336.0Z" fill="#cfc180" stroke="#e4ebfb" stroke-width="0.9" stroke-opacity="0.75"/>
<path d="M1219.5 336.0 L1219.5 336.0 L1220.7 326.4 L1222.5 317.1 L1224.2 312.7 L1225.9 312.2 L1228.3 315.9 L1230.6 321.2 L1233.5 324.1 L1238.2 324.3 L1242.8 323.9 L1245.2 325.3 L1247.5 329.3 L1249.8 332.3 L1253.3 333.4 L1259.1 334.6 L1262.6 335.2 L1262.6 336.0Z" fill="#cfc180" stroke="#e4ebfb" stroke-width="0.9" stroke-opacity="0.75"/>
<path d="M1263.8 333.2 L1265.5 326.4 L1267.9 322.9 L1271.4 321.2 L1274.3 315.9 L1276.6 313.0 L1278.9 313.6 L1280.7 317.7 L1281.8 324.1 L1283.6 331.1 L1285.3 336.0 L1278.4 336.0 L1275.4 334.0 L1273.1 331.1 L1270.8 328.2 L1268.5 328.5 L1265.5 331.7 L1263.8 334.6Z" fill="#cfc180" stroke="#e4ebfb" stroke-width="0.9" stroke-opacity="0.75"/>
<path d="M1290.0 336.0 L1290.0 336.0 L1292.9 334.3 L1295.8 333.7 L1298.7 334.6 L1300.5 336.0 L1300.5 336.0Z" fill="#cfc180" stroke="#e4ebfb" stroke-width="0.9" stroke-opacity="0.75"/>
<path d="M1307.5 336.0 L1307.5 336.0 L1310.4 333.4 L1314.5 331.7 L1317.4 328.8 L1320.3 326.4 L1323.2 326.2 L1324.1 328.2 L1326.1 327.0 L1328.4 322.9 L1330.8 321.8 L1332.5 322.9 L1334.8 327.6 L1337.2 332.3 L1340.1 334.6 L1343.6 336.0 L1343.6 336.0Z" fill="#cfc180" stroke="#e4ebfb" stroke-width="0.9" stroke-opacity="0.75"/>
<path d="M1338.3 327.6 L1341.8 327.4 L1341.8 328.5 L1338.3 328.8Z" fill="#cfc180" stroke="#e4ebfb" stroke-width="0.9" stroke-opacity="0.75"/>
<path d="M1350.0 336.0 L1350.0 336.0 L1351.7 328.8 L1353.5 319.4 L1355.2 314.8 L1358.1 312.5 L1360.5 309.5 L1363.4 306.6 L1366.3 305.2 L1369.8 306.1 L1372.7 307.8 L1375.6 308.7 L1377.3 311.3 L1379.1 318.3 L1380.8 324.1 L1383.2 327.0 L1386.1 326.4 L1389.6 324.1 L1393.1 321.8 L1395.4 317.7 L1397.1 311.3 L1398.9 305.5 L1401.2 303.1 L1403.5 305.5 L1405.3 311.3 L1407.6 317.7 L1409.9 320.6 L1412.3 322.9 L1414.0 328.8 L1415.8 334.0 L1416.9 336.0 L1416.9 336.0Z" fill="#cfc180" stroke="#e4ebfb" stroke-width="0.9" stroke-opacity="0.75"/>
<path d="M1423.3 336.0 L1423.3 336.0 L1430.3 334.0 L1436.2 332.3 L1442.0 330.5 L1445.5 329.3 L1448.4 330.5 L1452.0 334.6 L1454.8 336.0 L1454.8 336.0Z" fill="#cfc180" stroke="#e4ebfb" stroke-width="0.9" stroke-opacity="0.75"/>
<path d="M1455.1 336.0 L1455.1 336.0 L1457.4 332.8 L1459.2 328.2 L1460.9 324.7 L1462.7 323.9 L1465.0 325.3 L1467.3 328.8 L1470.2 331.3 L1474.9 332.3 L1477.2 334.0 L1481.9 334.6 L1493.5 334.0 L1500.5 334.2 L1505.2 335.5 L1509.8 336.0 L1509.8 336.0Z" fill="#cfc180" stroke="#e4ebfb" stroke-width="0.9" stroke-opacity="0.75"/>
<path d="M1527.3 336.0 L1527.3 336.0 L1530.2 332.8 L1535.4 330.5 L1537.8 322.9 L1539.5 316.5 L1541.3 314.8 L1544.8 315.4 L1549.4 317.1 L1552.9 318.5 L1556.4 321.2 L1559.0 322.4 L1561.6 320.6 L1563.4 315.9 L1565.7 309.5 L1568.0 306.4 L1569.8 308.4 L1571.3 314.8 L1572.7 322.9 L1574.5 331.1 L1577.4 334.0 L1584.4 334.6 L1589.0 334.0 L1592.5 332.3 L1596.0 331.7 L1598.3 327.6 L1600.1 317.1 L1601.8 309.0 L1605.3 305.5 L1608.8 300.8 L1611.7 298.2 L1614.0 299.1 L1616.4 302.6 L1618.7 306.1 L1621.6 307.8 L1623.9 311.3 L1626.3 317.1 L1628.6 320.0 L1631.5 321.8 L1633.3 327.6 L1635.0 334.0 L1636.2 336.0 L1636.2 336.0Z" fill="#cfc180" stroke="#e4ebfb" stroke-width="0.9" stroke-opacity="0.75"/>
<path d="M1648.9 336.0 L1648.9 336.0 L1650.1 331.1 L1651.3 322.9 L1652.8 318.3 L1655.1 315.4 L1657.4 310.1 L1659.8 306.1 L1662.7 304.3 L1668.5 301.0 L1675.5 300.0 L1684.8 299.4 L1688.3 296.7 L1691.2 295.0 L1695.3 295.9 L1698.8 297.9 L1701.7 298.5 L1704.0 302.0 L1706.9 309.0 L1710.4 311.9 L1712.2 317.1 L1713.9 326.4 L1715.3 333.4 L1716.3 336.0 L1716.3 336.0Z" fill="#cfc180" stroke="#e4ebfb" stroke-width="0.9" stroke-opacity="0.75"/>
<path d="M1720.3 336.0 L1720.3 336.0 L1721.5 331.1 L1723.2 321.8 L1725.0 314.8 L1727.3 312.5 L1729.6 313.9 L1732.6 316.5 L1736.1 318.3 L1737.8 321.8 L1739.5 328.8 L1741.3 334.0 L1742.5 336.0 L1742.5 336.0Z" fill="#cfc180" stroke="#e4ebfb" stroke-width="0.9" stroke-opacity="0.75"/>
<path d="M1744.2 336.0 L1744.2 336.0 L1745.9 334.0 L1747.7 336.0 L1747.7 336.0Z" fill="#cfc180" stroke="#e4ebfb" stroke-width="0.9" stroke-opacity="0.75"/>
<path d="M1766.3 336.0 L1766.3 336.0 L1771.0 334.9 L1775.6 335.5 L1778.6 336.0 L1778.6 336.0Z" fill="#cfc180" stroke="#e4ebfb" stroke-width="0.9" stroke-opacity="0.75"/>
<path d="M1781.5 336.0 L1781.5 336.0 L1784.4 333.4 L1788.5 331.7 L1791.9 332.8 L1796.0 334.3 L1800.1 335.2 L1801.8 336.0 L1801.8 336.0Z" fill="#cfc180" stroke="#e4ebfb" stroke-width="0.9" stroke-opacity="0.75"/>
<path d="M1810.0 336.0 L1810.0 336.0 L1812.3 334.6 L1815.2 334.0 L1818.2 334.9 L1819.9 336.0 L1819.9 336.0Z" fill="#cfc180" stroke="#e4ebfb" stroke-width="0.9" stroke-opacity="0.75"/>
<path d="M1835.6 336.0 L1835.6 336.0 L1840.3 334.0 L1844.4 331.7 L1846.7 327.0 L1848.4 322.9 L1850.2 321.8 L1851.9 322.9 L1853.7 327.0 L1856.0 332.3 L1859.5 334.3 L1864.2 335.7 L1864.2 336.0Z" fill="#cfc180" stroke="#e4ebfb" stroke-width="0.9" stroke-opacity="0.75"/>
<path d="M1869.4 336.0 L1869.4 336.0 L1872.9 334.6 L1875.8 334.0 L1879.3 334.8 L1881.6 336.0 L1881.6 336.0Z" fill="#cfc180" stroke="#e4ebfb" stroke-width="0.9" stroke-opacity="0.75"/>
<path d="M1898.5 336.0 L1898.5 335.2 L1900.8 333.2 L1903.2 332.0 L1905.5 333.2 L1907.8 335.2 L1907.8 336.0Z" fill="#cfc180" stroke="#e4ebfb" stroke-width="0.9" stroke-opacity="0.75"/>
<path d="M1915.4 336.0 L1915.4 336.0 L1917.7 335.2 L1923.5 334.6 L1930.5 333.7 L1936.4 332.8 L1939.8 333.4 L1942.8 335.7 L1944.5 336.0 L1944.5 336.0Z" fill="#cfc180" stroke="#e4ebfb" stroke-width="0.9" stroke-opacity="0.75"/>
<path d="M1950.6 336.0 L1950.6 336.0 L1955.3 333.7 L1958.8 331.3 L1961.1 327.2 L1963.2 324.8 L1965.5 325.3 L1967.5 329.3 L1969.3 334.0 L1970.7 336.0 L1970.7 336.0Z" fill="#cfc180" stroke="#e4ebfb" stroke-width="0.9" stroke-opacity="0.75"/>
<path d="M1978.0 336.0 L1978.0 336.0 L1981.5 334.6 L1985.0 335.2 L1986.2 336.0 L1986.2 336.0Z" fill="#cfc180" stroke="#e4ebfb" stroke-width="0.9" stroke-opacity="0.75"/>
<path d="M1995.5 336.0 L1995.5 336.0 L1999.5 334.6 L2003.0 335.2 L2004.8 336.0 L2004.8 336.0Z" fill="#cfc180" stroke="#e4ebfb" stroke-width="0.9" stroke-opacity="0.75"/>
<path d="M2021.7 336.0 L2021.7 335.2 L2023.4 332.3 L2025.7 330.5 L2028.1 330.9 L2030.4 332.8 L2032.7 334.6 L2036.8 335.2 L2042.6 334.6 L2046.7 335.2 L2047.3 336.0 L2047.3 336.0Z" fill="#cfc180" stroke="#e4ebfb" stroke-width="0.9" stroke-opacity="0.75"/>
<path d="M2072.3 336.0 L2072.3 336.0 L2074.7 332.8 L2077.6 330.9 L2081.1 330.5 L2084.6 332.0 L2088.6 332.5 L2091.0 334.0 L2092.1 336.0 L2092.1 336.0Z" fill="#cfc180" stroke="#e4ebfb" stroke-width="0.9" stroke-opacity="0.75"/>
<path d="M2100.3 336.0 L2100.3 336.0 L2103.2 334.3 L2107.8 334.0 L2113.7 334.2 L2117.2 334.8 L2118.9 336.0 L2118.9 336.0Z" fill="#cfc180" stroke="#e4ebfb" stroke-width="0.9" stroke-opacity="0.75"/>
<path d="M2136.4 336.0 L2136.4 336.0 L2140.5 334.6 L2143.9 333.4 L2146.3 331.3 L2148.6 330.9 L2151.5 332.0 L2153.3 334.0 L2154.4 336.0 L2154.4 336.0Z" fill="#cfc180" stroke="#e4ebfb" stroke-width="0.9" stroke-opacity="0.75"/>
<path d="M2162.6 336.0 L2162.6 336.0 L2166.1 334.8 L2170.2 335.2 L2170.7 336.0 L2170.7 336.0Z" fill="#cfc180" stroke="#e4ebfb" stroke-width="0.9" stroke-opacity="0.75"/>
<path d="M2182.4 336.0 L2182.4 336.0 L2186.5 334.6 L2188.8 331.7 L2191.1 328.8 L2193.4 328.2 L2195.2 329.9 L2196.9 332.8 L2198.7 336.0 L2198.7 336.0Z" fill="#cfc180" stroke="#e4ebfb" stroke-width="0.9" stroke-opacity="0.75"/>
<path d="M2205.7 336.0 L2205.7 336.0 L2208.0 333.4 L2210.9 332.0 L2213.8 333.2 L2216.7 335.2 L2217.9 336.0 L2217.9 336.0Z" fill="#cfc180" stroke="#e4ebfb" stroke-width="0.9" stroke-opacity="0.75"/>
<path d="M2235.3 336.0 L2235.3 336.0 L2238.8 335.3 L2242.3 336.0 L2242.3 336.0Z" fill="#cfc180" stroke="#e4ebfb" stroke-width="0.9" stroke-opacity="0.75"/>
<path d="M2267.9 336.0 L2267.9 336.0 L2270.2 333.7 L2273.1 332.0 L2276.1 333.2 L2280.7 334.6 L2284.8 335.5 L2285.4 336.0 L2285.4 336.0Z" fill="#cfc180" stroke="#e4ebfb" stroke-width="0.9" stroke-opacity="0.75"/>
<path d="M2302.8 336.0 L2302.8 336.0 L2305.7 334.3 L2308.1 333.8 L2310.4 334.8 L2312.2 336.0 L2312.2 336.0Z" fill="#cfc180" stroke="#e4ebfb" stroke-width="0.9" stroke-opacity="0.75"/>
<path d="M2329.6 336.0 L2329.6 335.2 L2332.5 332.8 L2335.4 332.3 L2338.9 334.0 L2343.6 334.8 L2347.7 335.7 L2347.7 336.0Z" fill="#cfc180" stroke="#e4ebfb" stroke-width="0.9" stroke-opacity="0.75"/>
<path d="M2390.8 336.0 L2390.8 335.2 L2394.3 333.7 L2398.3 333.4 L2403.0 334.6 L2407.6 335.5 L2408.8 336.0 L2408.8 336.0Z" fill="#cfc180" stroke="#e4ebfb" stroke-width="0.9" stroke-opacity="0.75"/>
<path d="M2451.3 336.0 L2451.3 335.7 L2454.8 334.0 L2458.9 333.4 L2463.5 334.2 L2468.2 335.2 L2471.1 336.0 L2471.1 336.0Z" fill="#cfc180" stroke="#e4ebfb" stroke-width="0.9" stroke-opacity="0.75"/>
<path d="M193.5 336.0 L193.5 334.6 L197.6 331.3 L201.1 324.7 L203.4 321.5 L205.2 321.3 L206.9 323.5 L208.7 328.8 L210.4 334.0 L211.2 336.0 L211.2 336.0Z" fill="#b99ef1" stroke="#e4ebfb" stroke-width="0.9" stroke-opacity="0.75"/>
<path d="M392.7 336.0 L392.7 336.0 L394.1 328.8 L396.5 324.7 L398.8 323.5 L402.3 325.3 L405.8 326.4 L409.3 328.2 L412.2 332.8 L415.1 334.6 L419.7 335.2 L420.9 336.0 L420.9 336.0Z" fill="#b99ef1" stroke="#e4ebfb" stroke-width="0.9" stroke-opacity="0.75"/>
<path d="M490.2 336.0 L490.2 336.0 L493.7 335.4 L497.8 336.0 L497.8 336.0Z" fill="#b99ef1" stroke="#e4ebfb" stroke-width="0.9" stroke-opacity="0.75"/>
<path d="M560.7 336.0 L560.7 336.0 L564.2 334.9 L574.6 334.8 L578.1 336.0 L578.1 336.0Z" fill="#b99ef1" stroke="#e4ebfb" stroke-width="0.9" stroke-opacity="0.75"/>
<path d="M585.7 336.0 L585.7 336.0 L588.6 334.0 L591.5 333.2 L594.4 334.3 L596.2 336.0 L596.2 336.0Z" fill="#b99ef1" stroke="#e4ebfb" stroke-width="0.9" stroke-opacity="0.75"/>
<path d="M682.7 336.0 L682.7 336.0 L685.6 334.0 L689.1 333.4 L692.6 334.6 L694.9 336.0 L694.9 336.0Z" fill="#b99ef1" stroke="#e4ebfb" stroke-width="0.9" stroke-opacity="0.75"/>
<path d="M912.4 336.0 L912.4 336.0 L913.5 332.3 L915.9 330.2 L918.8 329.7 L921.7 331.1 L925.2 332.3 L929.3 333.2 L932.2 335.2 L938.6 335.7 L950.2 335.5 L954.9 334.6 L957.8 331.7 L960.7 330.5 L963.6 331.3 L966.5 333.7 L971.2 334.6 L978.2 334.0 L984.0 332.8 L988.7 332.6 L991.0 334.0 L992.7 336.0 L992.7 336.0Z" fill="#b99ef1" stroke="#e4ebfb" stroke-width="0.9" stroke-opacity="0.75"/>
<path d="M1027.1 336.0 L1027.1 336.0 L1031.7 334.9 L1043.4 334.3 L1066.7 334.6 L1078.3 334.3 L1083.0 332.8 L1087.6 333.4 L1091.1 334.8 L1101.6 335.2 L1124.9 335.2 L1134.2 335.7 L1159.8 336.0 L1159.8 336.0Z" fill="#b99ef1" stroke="#e4ebfb" stroke-width="0.9" stroke-opacity="0.75"/>
<path d="M1078.3 336.0 L1078.3 335.2 L1081.2 333.2 L1085.3 332.6 L1088.8 333.7 L1091.1 335.2 L1091.1 336.0Z" fill="#b99ef1" stroke="#e4ebfb" stroke-width="0.9" stroke-opacity="0.75"/>
<path d="M1094.6 336.0 L1094.6 336.0 L1101.6 335.0 L1124.9 335.0 L1134.2 335.6 L1136.6 336.0 L1136.6 336.0Z" fill="#b99ef1" stroke="#e4ebfb" stroke-width="0.9" stroke-opacity="0.75"/>
<path d="M1156.7 336.0 L1156.7 336.0 L1163.6 335.2 L1169.5 333.4 L1175.3 332.0 L1179.9 331.1 L1183.4 331.3 L1186.9 332.8 L1192.8 334.0 L1200.9 334.6 L1203.8 336.0 L1203.8 336.0Z" fill="#b99ef1" stroke="#e4ebfb" stroke-width="0.9" stroke-opacity="0.75"/>
<path d="M1219.3 336.0 L1219.3 336.0 L1220.7 331.1 L1222.5 325.3 L1224.2 322.7 L1226.5 322.4 L1228.3 324.7 L1230.6 329.9 L1232.4 334.0 L1234.7 335.2 L1237.0 336.0 L1237.0 336.0Z" fill="#b99ef1" stroke="#e4ebfb" stroke-width="0.9" stroke-opacity="0.75"/>
<path d="M1386.1 336.0 L1386.1 336.0 L1387.8 332.8 L1390.2 329.3 L1393.1 328.5 L1401.2 329.0 L1403.5 330.5 L1405.9 333.4 L1407.6 336.0 L1407.6 336.0Z" fill="#b99ef1" stroke="#e4ebfb" stroke-width="0.9" stroke-opacity="0.75"/>
<path d="M1466.7 336.0 L1466.7 336.0 L1469.1 335.0 L1473.7 334.9 L1475.5 336.0 L1475.5 336.0Z" fill="#b99ef1" stroke="#e4ebfb" stroke-width="0.9" stroke-opacity="0.75"/>
<path d="M1529.6 336.0 L1529.6 336.0 L1533.1 335.2 L1536.0 336.0 L1536.0 336.0Z" fill="#b99ef1" stroke="#e4ebfb" stroke-width="0.9" stroke-opacity="0.75"/>
<path d="M1591.3 336.0 L1591.3 336.0 L1594.8 334.9 L1598.3 336.0 L1598.3 336.0Z" fill="#b99ef1" stroke="#e4ebfb" stroke-width="0.9" stroke-opacity="0.75"/>
<path d="M1679.0 336.0 L1679.0 336.0 L1682.5 334.8 L1686.6 336.0 L1686.6 336.0Z" fill="#b99ef1" stroke="#e4ebfb" stroke-width="0.9" stroke-opacity="0.75"/>
<path d="M1732.0 336.0 L1732.0 336.0 L1735.5 335.2 L1739.0 336.0 L1739.0 336.0Z" fill="#b99ef1" stroke="#e4ebfb" stroke-width="0.9" stroke-opacity="0.75"/>
<path d="M1783.8 336.0 L1783.8 336.0 L1787.3 334.3 L1790.8 334.6 L1793.7 336.0 L1793.7 336.0Z" fill="#b99ef1" stroke="#e4ebfb" stroke-width="0.9" stroke-opacity="0.75"/>
<path d="M1846.1 336.0 L1846.1 336.0 L1849.6 334.8 L1853.7 336.0 L1853.7 336.0Z" fill="#b99ef1" stroke="#e4ebfb" stroke-width="0.9" stroke-opacity="0.75"/>
<path d="M1900.3 336.0 L1900.3 336.0 L1903.2 334.8 L1906.1 336.0 L1906.1 336.0Z" fill="#b99ef1" stroke="#e4ebfb" stroke-width="0.9" stroke-opacity="0.75"/>
<path d="M1961.7 336.0 L1961.7 336.0 L1964.0 335.2 L1966.4 336.0 L1966.4 336.0Z" fill="#b99ef1" stroke="#e4ebfb" stroke-width="0.9" stroke-opacity="0.75"/>
<path d="M2022.3 336.0 L2022.3 336.0 L2025.2 334.3 L2028.7 334.6 L2031.0 336.0 L2031.0 336.0Z" fill="#b99ef1" stroke="#e4ebfb" stroke-width="0.9" stroke-opacity="0.75"/>
<path d="M2084.0 336.0 L2084.0 336.0 L2086.9 335.2 L2090.4 336.0 L2090.4 336.0Z" fill="#b99ef1" stroke="#e4ebfb" stroke-width="0.9" stroke-opacity="0.75"/>
<path d="M2145.1 336.0 L2145.1 336.0 L2148.6 334.9 L2152.1 336.0 L2152.1 336.0Z" fill="#b99ef1" stroke="#e4ebfb" stroke-width="0.9" stroke-opacity="0.75"/>
<path d="M2268.5 336.0 L2268.5 336.0 L2271.4 334.6 L2275.5 334.9 L2277.8 336.0 L2277.8 336.0Z" fill="#b99ef1" stroke="#e4ebfb" stroke-width="0.9" stroke-opacity="0.75"/>
<path d="M2330.8 336.0 L2330.8 336.0 L2333.7 334.9 L2337.2 335.5 L2338.4 336.0 L2338.4 336.0Z" fill="#b99ef1" stroke="#e4ebfb" stroke-width="0.9" stroke-opacity="0.75"/>
<path d="M2391.9 336.0 L2391.9 336.0 L2394.8 334.9 L2397.7 336.0 L2397.7 336.0Z" fill="#b99ef1" stroke="#e4ebfb" stroke-width="0.9" stroke-opacity="0.75"/>
<path d="M2454.2 336.0 L2454.2 336.0 L2457.1 335.2 L2460.0 336.0 L2460.0 336.0Z" fill="#b99ef1" stroke="#e4ebfb" stroke-width="0.9" stroke-opacity="0.75"/>
<path d="M190.3 336.0 L190.3 336.0 L193.5 333.4 L198.2 331.9 L201.7 329.6 L204.0 329.0 L206.3 330.2 L208.7 333.1 L210.4 336.0 L210.4 336.0Z" fill="#8cb0f1"/>
<path d="M261.6 336.0 L261.6 336.0 L265.7 334.7 L270.4 336.0 L270.4 336.0Z" fill="#8cb0f1"/>
<path d="M280.9 336.0 L280.9 336.0 L291.3 335.2 L298.3 336.0 L298.3 336.0Z" fill="#8cb0f1"/>
<path d="M393.0 336.0 L393.0 336.0 L395.3 334.3 L398.8 333.7 L401.7 334.6 L403.2 336.0 L403.2 336.0Z" fill="#8cb0f1"/>
<path d="M913.0 336.0 L913.0 336.0 L915.9 335.0 L919.4 335.0 L920.5 336.0 L920.5 336.0Z" fill="#8cb0f1"/>
<path d="M1167.7 336.0 L1167.7 336.0 L1170.6 334.9 L1183.4 334.8 L1185.8 336.0 L1185.8 336.0Z" fill="#8cb0f1"/>
<path d="M1220.7 336.0 L1220.7 336.0 L1223.0 335.2 L1227.7 335.2 L1228.9 336.0 L1228.9 336.0Z" fill="#8cb0f1"/>
<path d="M806.7 336.0 L806.7 336.0 L809.0 333.8 L811.9 333.0 L815.4 333.8 L818.3 334.6 L830.0 334.9 L847.4 334.7 L850.9 336.0 L850.9 336.0Z" fill="#a3c0f5"/>
<path d="M404.6 336.0 L404.6 336.0 L406.4 335.2 L409.3 335.4 L410.4 336.0 L410.4 336.0Z" fill="#9fd0b0"/>
<path d="M358.9 331.3 L362.4 327.8 L364.9 329.5" fill="none" stroke="#afbbd7" stroke-width="1.1" stroke-opacity="0.75"/>
<path d="M491.7 330.2 L494.3 328.8 L497.3 330.6" fill="none" stroke="#afbbd7" stroke-width="1.1" stroke-opacity="0.75"/>
<path d="M535.4 333.1 L538.5 331.6 L541.6 333.5" fill="none" stroke="#afbbd7" stroke-width="1.1" stroke-opacity="0.75"/>
<path d="M649.5 332.8 L653.5 330.9 L657.6 332.8 L662.3 334.6 L665.2 335.5" fill="none" stroke="#afbbd7" stroke-width="1.1" stroke-opacity="0.75"/>
<path d="M1029.4 331.1 L1035.2 328.2 L1039.3 326.2 L1042.2 327.0 L1044.6 329.9" fill="none" stroke="#afbbd7" stroke-width="1.1" stroke-opacity="0.75"/>
<path d="M1062.6 332.8 L1066.1 330.5 L1070.2 331.1 L1073.1 332.8" fill="none" stroke="#afbbd7" stroke-width="1.1" stroke-opacity="0.75"/>
<path d="M1098.7 332.3 L1101.6 330.5 L1105.1 332.0" fill="none" stroke="#afbbd7" stroke-width="1.1" stroke-opacity="0.75"/>
<path d="M1115.0 332.0 L1119.1 330.2 L1123.2 331.7 L1128.4 333.7" fill="none" stroke="#afbbd7" stroke-width="1.1" stroke-opacity="0.75"/>
<path d="M1785.0 332.3 L1788.5 330.5 L1792.5 332.0" fill="none" stroke="#afbbd7" stroke-width="1.1" stroke-opacity="0.75"/>
<path d="M1811.7 333.4 L1814.7 332.0 L1817.6 333.7" fill="none" stroke="#afbbd7" stroke-width="1.1" stroke-opacity="0.75"/>
<path d="M1924.7 332.8 L1931.7 331.7 L1936.4 331.1 L1939.8 332.0" fill="none" stroke="#afbbd7" stroke-width="1.1" stroke-opacity="0.75"/>
<path d="M1960.3 325.5 L1962.5 322.0 L1964.6 321.3 L1966.6 323.9" fill="none" stroke="#afbbd7" stroke-width="1.1" stroke-opacity="0.75"/>
<path d="M2023.4 330.5 L2025.7 328.2 L2028.7 328.8 L2030.4 331.1" fill="none" stroke="#afbbd7" stroke-width="1.1" stroke-opacity="0.75"/>
<path d="M2075.8 329.9 L2079.3 328.2 L2082.2 328.8 L2084.0 330.5" fill="none" stroke="#afbbd7" stroke-width="1.1" stroke-opacity="0.75"/>
<path d="M2137.0 334.3 L2141.6 332.8 L2145.1 330.5 L2147.4 328.2 L2149.8 328.2 L2152.1 330.5" fill="none" stroke="#afbbd7" stroke-width="1.1" stroke-opacity="0.75"/>
<path d="M2189.9 328.2 L2192.9 326.2 L2194.6 327.0" fill="none" stroke="#afbbd7" stroke-width="1.1" stroke-opacity="0.75"/>
<path d="M2208.6 332.3 L2210.9 330.5 L2213.2 331.7" fill="none" stroke="#afbbd7" stroke-width="1.1" stroke-opacity="0.75"/></g>
<g clip-path="url(#cpuS)"><path d="M330.9 327.6 L332.7 311.3 L334.4 303.1 L342.0 293.4 L403.4 293.4 L401.7 303.1 L398.8 310.1 L395.3 315.9 L389.5 322.9 L383.6 334.6 L382.5 336.0 L343.7 336.0 L340.3 334.1 L335.6 331.8Z" fill="url(#hatchS)"/>
<path d="M430.2 305.5 L432.0 296.2 L433.7 293.4 L442.5 293.4 L443.6 298.5 L444.8 307.8 L445.4 313.0 L441.9 309.0 L437.2 304.3 L433.7 300.8Z" fill="url(#hatchS)"/>
<path d="M469.8 325.3 L476.8 318.5 L478.6 319.4 L477.4 323.5 L474.5 322.9Z" fill="url(#hatchS)"/>
<path d="M617.1 335.2 L620.0 334.0 L627.0 325.8 L629.0 327.0 L628.2 329.9 L626.5 332.3 L631.1 332.3 L632.6 335.2Z" fill="url(#hatchS)"/>
<path d="M868.4 327.0 L870.2 318.3 L871.9 311.9 L874.0 311.9 L876.0 315.9 L877.7 324.1 L878.9 331.1 L879.5 334.6 L869.0 334.6Z" fill="url(#hatchS)"/>
<path d="M905.4 322.9 L918.2 308.0 L919.5 310.7 L918.2 314.8 L915.3 319.4 L912.4 324.1 L910.6 328.8 L907.1 334.0 L905.7 332.8Z" fill="url(#hatchS)"/>
<path d="M1071.9 333.4 L1079.5 323.5 L1081.4 324.1 L1079.5 327.6 L1077.2 332.8Z" fill="url(#hatchS)"/>
<path d="M1283.6 322.9 L1286.5 318.9 L1288.5 320.0 L1291.2 326.4 L1291.7 331.7 L1285.9 332.8 L1284.8 331.1Z" fill="url(#hatchS)"/>
<path d="M1299.9 332.3 L1306.9 324.1 L1314.5 316.5 L1315.7 318.3 L1313.3 321.8 L1309.8 326.4 L1308.0 331.7 L1301.1 334.0Z" fill="url(#hatchS)"/>
<path d="M1318.8 305.5 L1323.0 299.2 L1324.6 301.0 L1325.8 305.5 L1326.3 310.7 L1328.1 313.0 L1323.2 313.9 L1318.5 314.2 L1320.3 310.1Z" fill="url(#hatchS)"/>
<path d="M1380.8 311.3 L1384.9 306.6 L1391.9 303.1 L1395.4 307.8 L1394.8 314.8 L1391.9 319.4 L1384.9 318.9 L1381.4 315.9Z" fill="url(#hatchS)"/>
<path d="M1414.0 321.8 L1416.9 325.3 L1421.0 325.3 L1422.4 328.8 L1423.9 332.3 L1419.8 334.6 L1416.4 329.9 L1414.6 326.4Z" fill="url(#hatchS)"/>
<path d="M114.3 336.0 L114.3 299.6 L116.7 298.0 L119.0 297.3 L122.5 294.1 L124.8 293.4 L196.4 293.4 L198.8 296.7 L202.3 302.0 L205.2 302.9 L207.5 300.8 L212.2 293.8 L214.5 293.4 L240.1 293.4 L241.3 296.7 L243.0 309.0 L244.8 321.8 L246.5 326.4 L249.4 328.2 L251.7 331.7 L254.1 335.5 L255.8 336.0 L255.8 336.0Z" fill="#c4c4c4"/>
<path d="M259.0 336.0 L259.0 336.0 L260.5 331.1 L262.2 317.1 L264.0 304.3 L265.7 300.2 L267.5 300.6 L269.8 304.3 L272.7 308.4 L275.6 309.5 L277.4 313.0 L279.7 321.8 L282.0 327.0 L285.5 327.8 L293.7 328.2 L299.5 329.3 L302.4 328.8 L304.2 322.9 L306.5 309.0 L308.8 303.7 L310.6 303.1 L313.5 305.5 L317.0 308.4 L319.3 309.0 L321.6 314.8 L323.4 322.9 L325.1 327.6 L328.6 329.9 L333.3 331.7 L337.9 334.0 L340.8 335.2 L340.8 336.0Z" fill="#c4c4c4"/>
<path d="M395.3 336.0 L395.3 315.9 L398.8 311.3 L402.3 304.3 L404.0 297.3 L405.8 293.8 L409.3 293.4 L415.7 293.4 L417.4 295.0 L419.7 303.1 L422.1 309.0 L425.0 311.9 L427.3 317.1 L428.5 321.8 L430.2 336.0 L430.2 336.0Z" fill="#c4c4c4"/>
<path d="M443.0 336.0 L443.0 336.0 L446.5 332.8 L450.0 331.1 L453.5 332.8 L456.4 336.0 L456.4 336.0Z" fill="#c4c4c4"/>
<path d="M551.9 336.0 L551.9 336.0 L552.3 333.4 L554.8 329.9 L558.3 328.2 L560.1 322.9 L561.8 305.5 L563.6 296.7 L565.3 294.4 L570.0 293.8 L581.6 293.6 L589.8 294.4 L592.1 295.6 L593.3 300.8 L594.4 307.8 L595.6 318.3 L596.8 327.6 L597.9 334.6 L598.5 336.0 L598.5 336.0Z" fill="#c4c4c4"/>
<path d="M674.5 336.0 L674.5 336.0 L676.8 328.8 L679.7 326.4 L682.7 321.8 L685.0 313.0 L687.3 307.2 L689.1 306.1 L690.8 308.4 L692.6 315.4 L694.9 321.2 L698.4 323.5 L700.1 326.4 L701.9 332.8 L703.6 336.0 L703.6 336.0Z" fill="#c4c4c4"/>
<path d="M762.4 336.0 L762.4 336.0 L763.0 334.0 L765.3 328.8 L767.1 327.0 L769.4 328.2 L771.2 332.3 L772.3 334.6 L772.9 336.0 L772.9 336.0Z" fill="#c4c4c4"/>
<path d="M806.1 336.0 L806.1 336.0 L807.3 327.6 L809.0 320.6 L811.3 316.5 L813.7 315.4 L816.0 311.3 L818.3 306.1 L820.1 304.5 L821.8 306.1 L823.6 312.5 L825.3 321.8 L827.1 327.0 L828.8 328.2 L837.0 328.2 L853.3 327.6 L857.3 327.0 L859.1 328.8 L862.0 330.5 L866.1 331.7 L867.8 334.0 L868.4 336.0 L868.4 336.0Z" fill="#c4c4c4"/>
<path d="M892.3 336.0 L892.3 336.0 L894.0 327.6 L895.8 311.3 L897.5 300.8 L899.3 297.9 L901.0 300.2 L902.8 311.3 L904.5 325.3 L906.3 334.6 L906.8 336.0 L906.8 336.0Z" fill="#c4c4c4"/>
<path d="M913.0 336.0 L913.0 336.0 L914.7 322.9 L917.0 317.1 L919.9 313.0 L921.7 306.6 L923.4 297.3 L925.2 294.4 L926.9 293.6 L978.8 293.6 L980.5 295.0 L982.3 302.0 L984.0 307.8 L985.7 310.1 L988.1 311.9 L989.8 315.9 L991.0 320.6 L992.4 329.9 L993.9 334.0 L996.8 335.7 L1000.9 336.0 L1000.9 336.0Z" fill="#c4c4c4"/>
<path d="M1078.3 336.0 L1078.3 334.6 L1080.7 326.4 L1082.4 320.0 L1084.2 318.0 L1085.9 319.7 L1087.6 324.7 L1089.4 331.7 L1090.6 334.6 L1090.6 336.0Z" fill="#c4c4c4"/>
<path d="M1159.6 336.0 L1159.6 334.6 L1162.5 331.7 L1169.5 328.2 L1174.1 325.3 L1176.5 318.3 L1178.2 304.3 L1179.9 296.7 L1182.3 294.1 L1185.8 293.6 L1190.4 293.8 L1192.2 298.5 L1193.9 311.3 L1195.7 322.9 L1198.0 328.2 L1202.1 329.3 L1204.4 332.8 L1206.7 334.6 L1206.7 336.0Z" fill="#c4c4c4"/>
<path d="M1219.0 336.0 L1219.0 336.0 L1220.7 326.4 L1221.9 311.3 L1223.6 300.8 L1225.4 298.2 L1227.1 300.8 L1228.9 310.1 L1231.2 318.3 L1233.5 321.2 L1238.2 320.6 L1242.8 319.4 L1245.2 321.8 L1246.9 326.4 L1249.2 331.1 L1252.2 332.8 L1256.8 334.0 L1260.3 334.6 L1260.3 336.0Z" fill="#c4c4c4"/>
<path d="M1263.2 336.0 L1263.2 336.0 L1264.4 328.8 L1265.5 319.4 L1267.3 310.1 L1269.6 306.6 L1271.9 305.5 L1274.3 300.2 L1276.0 295.6 L1277.8 294.8 L1279.5 297.3 L1280.7 305.5 L1281.8 314.8 L1283.0 322.9 L1284.8 331.1 L1285.9 336.0 L1285.9 336.0Z" fill="#c4c4c4"/>
<path d="M1308.0 336.0 L1308.0 334.6 L1309.8 327.6 L1311.5 322.9 L1315.0 320.0 L1318.5 315.9 L1321.4 313.9 L1324.4 313.9 L1326.7 315.4 L1327.8 318.3 L1329.0 317.1 L1330.8 315.9 L1332.5 317.1 L1334.3 321.8 L1336.0 327.6 L1338.3 331.7 L1341.8 333.4 L1344.2 336.0 L1344.2 336.0Z" fill="#c4c4c4"/>
<path d="M1343.0 336.0 L1343.0 336.0 L1344.2 325.3 L1345.9 314.8 L1348.2 311.9 L1350.6 310.7 L1352.3 304.3 L1354.0 296.7 L1355.8 294.1 L1358.1 293.6 L1374.4 293.6 L1376.2 295.0 L1377.9 303.1 L1379.1 311.3 L1380.3 317.1 L1382.0 320.0 L1384.9 321.0 L1391.9 321.2 L1393.6 320.0 L1396.0 311.3 L1397.7 302.0 L1399.5 295.6 L1401.2 293.8 L1403.0 295.6 L1404.7 303.1 L1406.5 311.3 L1408.2 315.4 L1410.5 317.1 L1412.3 320.0 L1414.0 326.4 L1415.8 332.3 L1416.9 336.0 L1416.9 336.0Z" fill="#c4c4c4"/>
<path d="M1423.3 336.0 L1423.3 336.0 L1429.2 332.8 L1433.8 328.8 L1436.2 327.0 L1445.5 327.0 L1448.4 328.8 L1452.0 334.0 L1454.8 336.0 L1454.8 336.0Z" fill="#c4c4c4"/>
<path d="M1455.1 336.0 L1455.1 336.0 L1456.8 332.3 L1458.6 326.4 L1460.3 320.6 L1462.1 316.5 L1463.8 316.9 L1465.6 320.6 L1467.3 325.3 L1469.6 328.8 L1474.9 330.5 L1477.2 333.4 L1479.5 334.6 L1481.9 333.4 L1487.7 332.3 L1500.5 332.5 L1504.0 334.6 L1505.2 336.0 L1505.2 336.0Z" fill="#c4c4c4"/>
<path d="M1528.5 336.0 L1528.5 334.6 L1530.8 329.9 L1535.4 327.6 L1537.8 320.6 L1539.5 313.0 L1541.8 310.7 L1544.8 311.1 L1549.4 312.2 L1552.9 313.0 L1556.4 315.9 L1559.3 318.0 L1561.1 316.5 L1562.8 311.3 L1564.6 304.3 L1566.3 297.9 L1568.0 295.2 L1569.8 297.9 L1571.0 305.5 L1572.1 313.6 L1573.3 322.9 L1574.5 329.9 L1576.2 332.8 L1584.4 334.0 L1590.2 333.4 L1593.7 330.5 L1596.0 329.9 L1597.7 326.4 L1600.1 313.6 L1601.8 304.3 L1604.2 302.0 L1607.6 298.5 L1609.4 295.0 L1611.1 293.6 L1621.6 293.6 L1622.8 297.3 L1624.5 305.5 L1626.3 313.6 L1628.6 318.5 L1631.5 320.4 L1633.3 327.6 L1635.0 334.0 L1636.2 336.0 L1636.2 336.0Z" fill="#c4c4c4"/>
<path d="M1648.9 336.0 L1648.9 336.0 L1650.5 326.4 L1652.8 317.1 L1656.3 311.3 L1659.8 305.5 L1661.8 297.3 L1663.6 293.6 L1726.7 293.6 L1728.5 295.6 L1730.2 302.0 L1732.0 309.0 L1734.9 312.5 L1737.2 314.8 L1738.6 319.4 L1740.1 327.6 L1741.9 334.6 L1742.5 336.0 L1742.5 336.0Z" fill="#c4c4c4"/>
<path d="M1835.6 336.0 L1835.6 336.0 L1839.7 333.4 L1843.2 330.5 L1845.5 322.9 L1847.3 310.1 L1849.0 301.4 L1850.2 300.6 L1851.9 303.1 L1853.7 313.6 L1855.4 324.1 L1857.2 330.5 L1859.5 332.8 L1863.0 334.6 L1865.3 336.0 L1865.3 336.0Z" fill="#c4c4c4"/>
<path d="M2416.4 336.0 L2416.4 335.5 L2418.7 331.7 L2420.5 328.2 L2422.8 328.2 L2425.1 332.0 L2427.4 335.5 L2427.4 336.0Z" fill="#c4c4c4"/>
<path d="M339.1 336.0 L339.1 333.2 L344.3 328.8 L346.3 329.5 L350.7 336.0 L350.7 336.0Z" fill="url(#hatchSY)"/>
<path d="M383.1 336.0 L383.1 336.0 L386.6 320.6 L389.5 317.7 L391.8 318.9 L393.5 322.9 L392.4 327.6 L389.5 336.0 L389.5 336.0Z" fill="url(#hatchSY)"/>
<path d="M428.5 336.0 L428.5 336.0 L428.5 313.0 L430.2 305.5 L433.7 300.8 L437.2 304.3 L441.9 309.0 L444.8 313.0 L446.5 322.9 L447.7 331.1 L448.3 336.0 L448.3 336.0Z" fill="url(#hatchSY)"/>
<path d="M458.8 336.0 L458.8 336.0 L464.0 331.1 L469.8 325.3 L474.5 322.9 L476.8 324.1 L479.7 326.4 L481.5 331.1 L482.1 336.0 L482.1 336.0Z" fill="url(#hatchSY)"/>
<path d="M882.4 336.0 L882.4 336.0 L888.2 322.9 L890.5 320.6 L893.4 324.1 L894.0 336.0 L894.0 336.0Z" fill="url(#hatchSY)"/>
<path d="M114.3 336.0 L114.3 299.6 L116.7 298.0 L119.0 297.3 L122.5 294.1 L124.8 293.4 L187.7 293.4 L189.1 296.2 L191.2 306.6 L192.9 315.4 L194.7 319.2 L197.0 320.0 L200.5 318.0 L205.2 316.2 L212.2 315.0 L221.5 314.6 L225.0 313.0 L227.9 309.5 L230.2 308.4 L232.5 310.1 L234.3 315.9 L236.0 326.4 L237.8 332.8 L240.1 334.8 L244.8 336.0 L244.8 336.0Z" fill="#f0ca46" stroke="#ffffff" stroke-width="0.9" stroke-opacity="0.75"/>
<path d="M259.0 336.0 L259.0 336.0 L261.1 328.8 L262.8 317.1 L264.6 308.4 L266.3 307.2 L268.6 310.1 L272.1 315.9 L275.6 318.3 L277.9 321.8 L280.3 327.0 L282.6 331.1 L285.5 332.3 L291.3 331.7 L296.0 332.3 L300.7 332.8 L304.2 331.1 L305.9 320.6 L308.2 309.5 L310.6 308.4 L314.0 311.9 L317.5 314.8 L320.5 316.5 L322.8 324.1 L325.1 330.5 L328.6 332.8 L333.3 334.6 L339.1 335.7 L340.8 336.0 L340.8 336.0Z" fill="#f0ca46" stroke="#ffffff" stroke-width="0.9" stroke-opacity="0.75"/>
<path d="M357.1 336.0 L357.1 336.0 L359.5 332.5 L362.4 329.7 L364.7 330.6 L367.6 336.0 L367.6 336.0Z" fill="#f0ca46" stroke="#ffffff" stroke-width="0.9" stroke-opacity="0.75"/>
<path d="M393.5 336.0 L393.5 336.0 L394.7 322.9 L396.5 317.1 L399.9 314.8 L404.6 311.3 L409.3 309.0 L413.3 305.5 L415.7 304.9 L418.0 307.2 L420.3 313.0 L422.1 316.5 L425.6 319.4 L427.3 324.1 L429.1 330.5 L430.8 334.6 L432.6 336.0 L432.6 336.0Z" fill="#f0ca46" stroke="#ffffff" stroke-width="0.9" stroke-opacity="0.75"/>
<path d="M485.0 336.0 L485.0 336.0 L490.8 334.0 L493.7 331.3 L496.0 332.0 L498.9 335.2 L500.1 336.0 L500.1 336.0Z" fill="#f0ca46" stroke="#ffffff" stroke-width="0.9" stroke-opacity="0.75"/>
<path d="M533.3 336.0 L533.3 336.0 L536.8 334.3 L539.1 334.0 L542.0 335.2 L543.8 336.0 L543.8 336.0Z" fill="#f0ca46" stroke="#ffffff" stroke-width="0.9" stroke-opacity="0.75"/>
<path d="M550.2 336.0 L550.2 336.0 L553.7 334.6 L557.2 332.8 L559.5 328.8 L561.2 317.1 L563.0 306.6 L564.7 302.9 L567.6 302.2 L577.0 302.2 L586.3 303.1 L590.9 304.9 L593.3 307.8 L595.0 315.9 L596.2 326.4 L597.3 333.4 L598.5 336.0 L598.5 336.0Z" fill="#f0ca46" stroke="#ffffff" stroke-width="0.9" stroke-opacity="0.75"/>
<path d="M600.3 336.0 L600.3 336.0 L602.6 334.6 L603.7 336.0 L603.7 336.0Z" fill="#f0ca46" stroke="#ffffff" stroke-width="0.9" stroke-opacity="0.75"/>
<path d="M617.1 336.0 L617.1 336.0 L621.2 334.3 L622.6 336.0 L622.6 336.0Z" fill="#f0ca46" stroke="#ffffff" stroke-width="0.9" stroke-opacity="0.75"/>
<path d="M647.1 336.0 L647.1 336.0 L650.6 334.0 L653.5 332.8 L656.5 334.0 L659.9 336.0 L659.9 336.0Z" fill="#f0ca46" stroke="#ffffff" stroke-width="0.9" stroke-opacity="0.75"/>
<path d="M673.9 336.0 L673.9 336.0 L676.8 332.8 L680.9 329.9 L683.8 325.3 L686.2 321.2 L688.5 319.4 L690.8 320.6 L693.1 323.5 L695.5 325.8 L699.0 328.2 L701.3 332.8 L703.3 336.0 L703.3 336.0Z" fill="#f0ca46" stroke="#ffffff" stroke-width="0.9" stroke-opacity="0.75"/>
<path d="M761.3 336.0 L761.3 336.0 L764.2 333.7 L767.1 331.7 L769.4 332.8 L771.7 335.2 L772.9 336.0 L772.9 336.0Z" fill="#f0ca46" stroke="#ffffff" stroke-width="0.9" stroke-opacity="0.75"/>
<path d="M806.1 336.0 L806.1 336.0 L807.3 329.3 L809.0 323.5 L811.9 322.1 L815.4 323.5 L818.3 325.3 L821.8 325.8 L824.7 328.2 L827.6 330.5 L832.3 331.3 L841.6 331.1 L848.6 330.9 L853.3 332.3 L859.1 332.8 L864.9 332.8 L867.8 334.6 L868.4 336.0 L868.4 336.0Z" fill="#f0ca46" stroke="#ffffff" stroke-width="0.9" stroke-opacity="0.75"/>
<path d="M893.4 336.0 L893.4 336.0 L895.8 332.8 L898.1 329.3 L899.8 328.5 L902.2 330.5 L905.1 335.2 L905.7 336.0 L905.7 336.0Z" fill="#f0ca46" stroke="#ffffff" stroke-width="0.9" stroke-opacity="0.75"/>
<path d="M913.0 336.0 L913.0 331.1 L914.7 326.4 L918.8 322.4 L922.3 315.9 L925.2 312.5 L928.1 310.1 L930.4 304.3 L932.8 299.6 L935.1 298.7 L937.4 299.6 L940.3 302.0 L943.2 302.9 L946.7 301.7 L951.4 299.9 L957.2 300.0 L963.0 300.2 L968.9 299.4 L971.8 300.0 L974.1 303.1 L976.4 307.2 L978.8 309.0 L981.7 310.7 L984.6 315.4 L987.5 317.7 L989.2 320.0 L991.0 325.3 L992.4 331.1 L993.9 334.0 L996.8 335.7 L1000.9 336.0 L1000.9 336.0Z" fill="#f0ca46" stroke="#ffffff" stroke-width="0.9" stroke-opacity="0.75"/>
<path d="M1026.5 336.0 L1026.5 336.0 L1029.4 332.8 L1034.1 330.5 L1038.7 329.0 L1042.2 329.7 L1044.6 332.3 L1046.3 334.0 L1048.0 336.0 L1048.0 336.0Z" fill="#f0ca46" stroke="#ffffff" stroke-width="0.9" stroke-opacity="0.75"/>
<path d="M1061.4 336.0 L1061.4 334.6 L1064.4 332.5 L1067.8 332.0 L1071.3 333.4 L1073.7 334.6 L1073.7 336.0Z" fill="#f0ca46" stroke="#ffffff" stroke-width="0.9" stroke-opacity="0.75"/>
<path d="M1078.3 336.0 L1078.3 334.6 L1080.7 329.3 L1083.0 325.3 L1084.7 324.7 L1087.1 327.0 L1089.4 332.8 L1090.6 334.6 L1090.6 336.0Z" fill="#f0ca46" stroke="#ffffff" stroke-width="0.9" stroke-opacity="0.75"/>
<path d="M1097.5 336.0 L1097.5 334.6 L1100.5 332.5 L1103.4 332.0 L1105.7 333.4 L1107.4 334.6 L1107.4 336.0Z" fill="#f0ca46" stroke="#ffffff" stroke-width="0.9" stroke-opacity="0.75"/>
<path d="M1113.8 336.0 L1113.8 334.6 L1116.8 332.8 L1120.3 332.0 L1123.7 333.2 L1126.1 334.6 L1126.1 336.0Z" fill="#f0ca46" stroke="#ffffff" stroke-width="0.9" stroke-opacity="0.75"/>
<path d="M1159.6 336.0 L1159.6 335.2 L1166.0 333.4 L1171.8 330.5 L1175.3 327.6 L1177.0 320.6 L1178.8 310.1 L1180.5 304.3 L1182.3 302.9 L1184.0 304.9 L1185.8 310.1 L1188.1 317.1 L1190.4 320.6 L1192.8 322.4 L1195.1 326.4 L1198.0 329.9 L1202.1 331.7 L1204.4 334.0 L1206.7 335.2 L1206.7 336.0Z" fill="#f0ca46" stroke="#ffffff" stroke-width="0.9" stroke-opacity="0.75"/>
<path d="M1219.5 336.0 L1219.5 336.0 L1220.7 326.4 L1222.5 317.1 L1224.2 312.7 L1225.9 312.2 L1228.3 315.9 L1230.6 321.2 L1233.5 324.1 L1238.2 324.3 L1242.8 323.9 L1245.2 325.3 L1247.5 329.3 L1249.8 332.3 L1253.3 333.4 L1259.1 334.6 L1262.6 335.2 L1262.6 336.0Z" fill="#f0ca46" stroke="#ffffff" stroke-width="0.9" stroke-opacity="0.75"/>
<path d="M1263.8 333.2 L1265.5 326.4 L1267.9 322.9 L1271.4 321.2 L1274.3 315.9 L1276.6 313.0 L1278.9 313.6 L1280.7 317.7 L1281.8 324.1 L1283.6 331.1 L1285.3 336.0 L1278.4 336.0 L1275.4 334.0 L1273.1 331.1 L1270.8 328.2 L1268.5 328.5 L1265.5 331.7 L1263.8 334.6Z" fill="#f0ca46" stroke="#ffffff" stroke-width="0.9" stroke-opacity="0.75"/>
<path d="M1290.0 336.0 L1290.0 336.0 L1292.9 334.3 L1295.8 333.7 L1298.7 334.6 L1300.5 336.0 L1300.5 336.0Z" fill="#f0ca46" stroke="#ffffff" stroke-width="0.9" stroke-opacity="0.75"/>
<path d="M1307.5 336.0 L1307.5 336.0 L1310.4 333.4 L1314.5 331.7 L1317.4 328.8 L1320.3 326.4 L1323.2 326.2 L1324.1 328.2 L1326.1 327.0 L1328.4 322.9 L1330.8 321.8 L1332.5 322.9 L1334.8 327.6 L1337.2 332.3 L1340.1 334.6 L1343.6 336.0 L1343.6 336.0Z" fill="#f0ca46" stroke="#ffffff" stroke-width="0.9" stroke-opacity="0.75"/>
<path d="M1338.3 327.6 L1341.8 327.4 L1341.8 328.5 L1338.3 328.8Z" fill="#f0ca46" stroke="#ffffff" stroke-width="0.9" stroke-opacity="0.75"/>
<path d="M1350.0 336.0 L1350.0 336.0 L1351.7 328.8 L1353.5 319.4 L1355.2 314.8 L1358.1 312.5 L1360.5 309.5 L1363.4 306.6 L1366.3 305.2 L1369.8 306.1 L1372.7 307.8 L1375.6 308.7 L1377.3 311.3 L1379.1 318.3 L1380.8 324.1 L1383.2 327.0 L1386.1 326.4 L1389.6 324.1 L1393.1 321.8 L1395.4 317.7 L1397.1 311.3 L1398.9 305.5 L1401.2 303.1 L1403.5 305.5 L1405.3 311.3 L1407.6 317.7 L1409.9 320.6 L1412.3 322.9 L1414.0 328.8 L1415.8 334.0 L1416.9 336.0 L1416.9 336.0Z" fill="#f0ca46" stroke="#ffffff" stroke-width="0.9" stroke-opacity="0.75"/>
<path d="M1423.3 336.0 L1423.3 336.0 L1430.3 334.0 L1436.2 332.3 L1442.0 330.5 L1445.5 329.3 L1448.4 330.5 L1452.0 334.6 L1454.8 336.0 L1454.8 336.0Z" fill="#f0ca46" stroke="#ffffff" stroke-width="0.9" stroke-opacity="0.75"/>
<path d="M1455.1 336.0 L1455.1 336.0 L1457.4 332.8 L1459.2 328.2 L1460.9 324.7 L1462.7 323.9 L1465.0 325.3 L1467.3 328.8 L1470.2 331.3 L1474.9 332.3 L1477.2 334.0 L1481.9 334.6 L1493.5 334.0 L1500.5 334.2 L1505.2 335.5 L1509.8 336.0 L1509.8 336.0Z" fill="#f0ca46" stroke="#ffffff" stroke-width="0.9" stroke-opacity="0.75"/>
<path d="M1527.3 336.0 L1527.3 336.0 L1530.2 332.8 L1535.4 330.5 L1537.8 322.9 L1539.5 316.5 L1541.3 314.8 L1544.8 315.4 L1549.4 317.1 L1552.9 318.5 L1556.4 321.2 L1559.0 322.4 L1561.6 320.6 L1563.4 315.9 L1565.7 309.5 L1568.0 306.4 L1569.8 308.4 L1571.3 314.8 L1572.7 322.9 L1574.5 331.1 L1577.4 334.0 L1584.4 334.6 L1589.0 334.0 L1592.5 332.3 L1596.0 331.7 L1598.3 327.6 L1600.1 317.1 L1601.8 309.0 L1605.3 305.5 L1608.8 300.8 L1611.7 298.2 L1614.0 299.1 L1616.4 302.6 L1618.7 306.1 L1621.6 307.8 L1623.9 311.3 L1626.3 317.1 L1628.6 320.0 L1631.5 321.8 L1633.3 327.6 L1635.0 334.0 L1636.2 336.0 L1636.2 336.0Z" fill="#f0ca46" stroke="#ffffff" stroke-width="0.9" stroke-opacity="0.75"/>
<path d="M1648.9 336.0 L1648.9 336.0 L1650.1 331.1 L1651.3 322.9 L1652.8 318.3 L1655.1 315.4 L1657.4 310.1 L1659.8 306.1 L1662.7 304.3 L1668.5 301.0 L1675.5 300.0 L1684.8 299.4 L1688.3 296.7 L1691.2 295.0 L1695.3 295.9 L1698.8 297.9 L1701.7 298.5 L1704.0 302.0 L1706.9 309.0 L1710.4 311.9 L1712.2 317.1 L1713.9 326.4 L1715.3 333.4 L1716.3 336.0 L1716.3 336.0Z" fill="#f0ca46" stroke="#ffffff" stroke-width="0.9" stroke-opacity="0.75"/>
<path d="M1720.3 336.0 L1720.3 336.0 L1721.5 331.1 L1723.2 321.8 L1725.0 314.8 L1727.3 312.5 L1729.6 313.9 L1732.6 316.5 L1736.1 318.3 L1737.8 321.8 L1739.5 328.8 L1741.3 334.0 L1742.5 336.0 L1742.5 336.0Z" fill="#f0ca46" stroke="#ffffff" stroke-width="0.9" stroke-opacity="0.75"/>
<path d="M1744.2 336.0 L1744.2 336.0 L1745.9 334.0 L1747.7 336.0 L1747.7 336.0Z" fill="#f0ca46" stroke="#ffffff" stroke-width="0.9" stroke-opacity="0.75"/>
<path d="M1766.3 336.0 L1766.3 336.0 L1771.0 334.9 L1775.6 335.5 L1778.6 336.0 L1778.6 336.0Z" fill="#f0ca46" stroke="#ffffff" stroke-width="0.9" stroke-opacity="0.75"/>
<path d="M1781.5 336.0 L1781.5 336.0 L1784.4 333.4 L1788.5 331.7 L1791.9 332.8 L1796.0 334.3 L1800.1 335.2 L1801.8 336.0 L1801.8 336.0Z" fill="#f0ca46" stroke="#ffffff" stroke-width="0.9" stroke-opacity="0.75"/>
<path d="M1810.0 336.0 L1810.0 336.0 L1812.3 334.6 L1815.2 334.0 L1818.2 334.9 L1819.9 336.0 L1819.9 336.0Z" fill="#f0ca46" stroke="#ffffff" stroke-width="0.9" stroke-opacity="0.75"/>
<path d="M1835.6 336.0 L1835.6 336.0 L1840.3 334.0 L1844.4 331.7 L1846.7 327.0 L1848.4 322.9 L1850.2 321.8 L1851.9 322.9 L1853.7 327.0 L1856.0 332.3 L1859.5 334.3 L1864.2 335.7 L1864.2 336.0Z" fill="#f0ca46" stroke="#ffffff" stroke-width="0.9" stroke-opacity="0.75"/>
<path d="M1869.4 336.0 L1869.4 336.0 L1872.9 334.6 L1875.8 334.0 L1879.3 334.8 L1881.6 336.0 L1881.6 336.0Z" fill="#f0ca46" stroke="#ffffff" stroke-width="0.9" stroke-opacity="0.75"/>
<path d="M1898.5 336.0 L1898.5 335.2 L1900.8 333.2 L1903.2 332.0 L1905.5 333.2 L1907.8 335.2 L1907.8 336.0Z" fill="#f0ca46" stroke="#ffffff" stroke-width="0.9" stroke-opacity="0.75"/>
<path d="M1915.4 336.0 L1915.4 336.0 L1917.7 335.2 L1923.5 334.6 L1930.5 333.7 L1936.4 332.8 L1939.8 333.4 L1942.8 335.7 L1944.5 336.0 L1944.5 336.0Z" fill="#f0ca46" stroke="#ffffff" stroke-width="0.9" stroke-opacity="0.75"/>
<path d="M1950.6 336.0 L1950.6 336.0 L1955.3 333.7 L1958.8 331.3 L1961.1 327.2 L1963.2 324.8 L1965.5 325.3 L1967.5 329.3 L1969.3 334.0 L1970.7 336.0 L1970.7 336.0Z" fill="#f0ca46" stroke="#ffffff" stroke-width="0.9" stroke-opacity="0.75"/>
<path d="M1978.0 336.0 L1978.0 336.0 L1981.5 334.6 L1985.0 335.2 L1986.2 336.0 L1986.2 336.0Z" fill="#f0ca46" stroke="#ffffff" stroke-width="0.9" stroke-opacity="0.75"/>
<path d="M1995.5 336.0 L1995.5 336.0 L1999.5 334.6 L2003.0 335.2 L2004.8 336.0 L2004.8 336.0Z" fill="#f0ca46" stroke="#ffffff" stroke-width="0.9" stroke-opacity="0.75"/>
<path d="M2021.7 336.0 L2021.7 335.2 L2023.4 332.3 L2025.7 330.5 L2028.1 330.9 L2030.4 332.8 L2032.7 334.6 L2036.8 335.2 L2042.6 334.6 L2046.7 335.2 L2047.3 336.0 L2047.3 336.0Z" fill="#f0ca46" stroke="#ffffff" stroke-width="0.9" stroke-opacity="0.75"/>
<path d="M2072.3 336.0 L2072.3 336.0 L2074.7 332.8 L2077.6 330.9 L2081.1 330.5 L2084.6 332.0 L2088.6 332.5 L2091.0 334.0 L2092.1 336.0 L2092.1 336.0Z" fill="#f0ca46" stroke="#ffffff" stroke-width="0.9" stroke-opacity="0.75"/>
<path d="M2100.3 336.0 L2100.3 336.0 L2103.2 334.3 L2107.8 334.0 L2113.7 334.2 L2117.2 334.8 L2118.9 336.0 L2118.9 336.0Z" fill="#f0ca46" stroke="#ffffff" stroke-width="0.9" stroke-opacity="0.75"/>
<path d="M2136.4 336.0 L2136.4 336.0 L2140.5 334.6 L2143.9 333.4 L2146.3 331.3 L2148.6 330.9 L2151.5 332.0 L2153.3 334.0 L2154.4 336.0 L2154.4 336.0Z" fill="#f0ca46" stroke="#ffffff" stroke-width="0.9" stroke-opacity="0.75"/>
<path d="M2162.6 336.0 L2162.6 336.0 L2166.1 334.8 L2170.2 335.2 L2170.7 336.0 L2170.7 336.0Z" fill="#f0ca46" stroke="#ffffff" stroke-width="0.9" stroke-opacity="0.75"/>
<path d="M2182.4 336.0 L2182.4 336.0 L2186.5 334.6 L2188.8 331.7 L2191.1 328.8 L2193.4 328.2 L2195.2 329.9 L2196.9 332.8 L2198.7 336.0 L2198.7 336.0Z" fill="#f0ca46" stroke="#ffffff" stroke-width="0.9" stroke-opacity="0.75"/>
<path d="M2205.7 336.0 L2205.7 336.0 L2208.0 333.4 L2210.9 332.0 L2213.8 333.2 L2216.7 335.2 L2217.9 336.0 L2217.9 336.0Z" fill="#f0ca46" stroke="#ffffff" stroke-width="0.9" stroke-opacity="0.75"/>
<path d="M2235.3 336.0 L2235.3 336.0 L2238.8 335.3 L2242.3 336.0 L2242.3 336.0Z" fill="#f0ca46" stroke="#ffffff" stroke-width="0.9" stroke-opacity="0.75"/>
<path d="M2267.9 336.0 L2267.9 336.0 L2270.2 333.7 L2273.1 332.0 L2276.1 333.2 L2280.7 334.6 L2284.8 335.5 L2285.4 336.0 L2285.4 336.0Z" fill="#f0ca46" stroke="#ffffff" stroke-width="0.9" stroke-opacity="0.75"/>
<path d="M2302.8 336.0 L2302.8 336.0 L2305.7 334.3 L2308.1 333.8 L2310.4 334.8 L2312.2 336.0 L2312.2 336.0Z" fill="#f0ca46" stroke="#ffffff" stroke-width="0.9" stroke-opacity="0.75"/>
<path d="M2329.6 336.0 L2329.6 335.2 L2332.5 332.8 L2335.4 332.3 L2338.9 334.0 L2343.6 334.8 L2347.7 335.7 L2347.7 336.0Z" fill="#f0ca46" stroke="#ffffff" stroke-width="0.9" stroke-opacity="0.75"/>
<path d="M2390.8 336.0 L2390.8 335.2 L2394.3 333.7 L2398.3 333.4 L2403.0 334.6 L2407.6 335.5 L2408.8 336.0 L2408.8 336.0Z" fill="#f0ca46" stroke="#ffffff" stroke-width="0.9" stroke-opacity="0.75"/>
<path d="M2451.3 336.0 L2451.3 335.7 L2454.8 334.0 L2458.9 333.4 L2463.5 334.2 L2468.2 335.2 L2471.1 336.0 L2471.1 336.0Z" fill="#f0ca46" stroke="#ffffff" stroke-width="0.9" stroke-opacity="0.75"/>
<path d="M193.5 336.0 L193.5 334.6 L197.6 331.3 L201.1 324.7 L203.4 321.5 L205.2 321.3 L206.9 323.5 L208.7 328.8 L210.4 334.0 L211.2 336.0 L211.2 336.0Z" fill="#c693f7" stroke="#ffffff" stroke-width="0.9" stroke-opacity="0.75"/>
<path d="M392.7 336.0 L392.7 336.0 L394.1 328.8 L396.5 324.7 L398.8 323.5 L402.3 325.3 L405.8 326.4 L409.3 328.2 L412.2 332.8 L415.1 334.6 L419.7 335.2 L420.9 336.0 L420.9 336.0Z" fill="#c693f7" stroke="#ffffff" stroke-width="0.9" stroke-opacity="0.75"/>
<path d="M490.2 336.0 L490.2 336.0 L493.7 335.4 L497.8 336.0 L497.8 336.0Z" fill="#c693f7" stroke="#ffffff" stroke-width="0.9" stroke-opacity="0.75"/>
<path d="M560.7 336.0 L560.7 336.0 L564.2 334.9 L574.6 334.8 L578.1 336.0 L578.1 336.0Z" fill="#c693f7" stroke="#ffffff" stroke-width="0.9" stroke-opacity="0.75"/>
<path d="M585.7 336.0 L585.7 336.0 L588.6 334.0 L591.5 333.2 L594.4 334.3 L596.2 336.0 L596.2 336.0Z" fill="#c693f7" stroke="#ffffff" stroke-width="0.9" stroke-opacity="0.75"/>
<path d="M682.7 336.0 L682.7 336.0 L685.6 334.0 L689.1 333.4 L692.6 334.6 L694.9 336.0 L694.9 336.0Z" fill="#c693f7" stroke="#ffffff" stroke-width="0.9" stroke-opacity="0.75"/>
<path d="M912.4 336.0 L912.4 336.0 L913.5 332.3 L915.9 330.2 L918.8 329.7 L921.7 331.1 L925.2 332.3 L929.3 333.2 L932.2 335.2 L938.6 335.7 L950.2 335.5 L954.9 334.6 L957.8 331.7 L960.7 330.5 L963.6 331.3 L966.5 333.7 L971.2 334.6 L978.2 334.0 L984.0 332.8 L988.7 332.6 L991.0 334.0 L992.7 336.0 L992.7 336.0Z" fill="#c693f7" stroke="#ffffff" stroke-width="0.9" stroke-opacity="0.75"/>
<path d="M1027.1 336.0 L1027.1 336.0 L1031.7 334.9 L1043.4 334.3 L1066.7 334.6 L1078.3 334.3 L1083.0 332.8 L1087.6 333.4 L1091.1 334.8 L1101.6 335.2 L1124.9 335.2 L1134.2 335.7 L1159.8 336.0 L1159.8 336.0Z" fill="#c693f7" stroke="#ffffff" stroke-width="0.9" stroke-opacity="0.75"/>
<path d="M1078.3 336.0 L1078.3 335.2 L1081.2 333.2 L1085.3 332.6 L1088.8 333.7 L1091.1 335.2 L1091.1 336.0Z" fill="#c693f7" stroke="#ffffff" stroke-width="0.9" stroke-opacity="0.75"/>
<path d="M1094.6 336.0 L1094.6 336.0 L1101.6 335.0 L1124.9 335.0 L1134.2 335.6 L1136.6 336.0 L1136.6 336.0Z" fill="#c693f7" stroke="#ffffff" stroke-width="0.9" stroke-opacity="0.75"/>
<path d="M1156.7 336.0 L1156.7 336.0 L1163.6 335.2 L1169.5 333.4 L1175.3 332.0 L1179.9 331.1 L1183.4 331.3 L1186.9 332.8 L1192.8 334.0 L1200.9 334.6 L1203.8 336.0 L1203.8 336.0Z" fill="#c693f7" stroke="#ffffff" stroke-width="0.9" stroke-opacity="0.75"/>
<path d="M1219.3 336.0 L1219.3 336.0 L1220.7 331.1 L1222.5 325.3 L1224.2 322.7 L1226.5 322.4 L1228.3 324.7 L1230.6 329.9 L1232.4 334.0 L1234.7 335.2 L1237.0 336.0 L1237.0 336.0Z" fill="#c693f7" stroke="#ffffff" stroke-width="0.9" stroke-opacity="0.75"/>
<path d="M1386.1 336.0 L1386.1 336.0 L1387.8 332.8 L1390.2 329.3 L1393.1 328.5 L1401.2 329.0 L1403.5 330.5 L1405.9 333.4 L1407.6 336.0 L1407.6 336.0Z" fill="#c693f7" stroke="#ffffff" stroke-width="0.9" stroke-opacity="0.75"/>
<path d="M1466.7 336.0 L1466.7 336.0 L1469.1 335.0 L1473.7 334.9 L1475.5 336.0 L1475.5 336.0Z" fill="#c693f7" stroke="#ffffff" stroke-width="0.9" stroke-opacity="0.75"/>
<path d="M1529.6 336.0 L1529.6 336.0 L1533.1 335.2 L1536.0 336.0 L1536.0 336.0Z" fill="#c693f7" stroke="#ffffff" stroke-width="0.9" stroke-opacity="0.75"/>
<path d="M1591.3 336.0 L1591.3 336.0 L1594.8 334.9 L1598.3 336.0 L1598.3 336.0Z" fill="#c693f7" stroke="#ffffff" stroke-width="0.9" stroke-opacity="0.75"/>
<path d="M1679.0 336.0 L1679.0 336.0 L1682.5 334.8 L1686.6 336.0 L1686.6 336.0Z" fill="#c693f7" stroke="#ffffff" stroke-width="0.9" stroke-opacity="0.75"/>
<path d="M1732.0 336.0 L1732.0 336.0 L1735.5 335.2 L1739.0 336.0 L1739.0 336.0Z" fill="#c693f7" stroke="#ffffff" stroke-width="0.9" stroke-opacity="0.75"/>
<path d="M1783.8 336.0 L1783.8 336.0 L1787.3 334.3 L1790.8 334.6 L1793.7 336.0 L1793.7 336.0Z" fill="#c693f7" stroke="#ffffff" stroke-width="0.9" stroke-opacity="0.75"/>
<path d="M1846.1 336.0 L1846.1 336.0 L1849.6 334.8 L1853.7 336.0 L1853.7 336.0Z" fill="#c693f7" stroke="#ffffff" stroke-width="0.9" stroke-opacity="0.75"/>
<path d="M1900.3 336.0 L1900.3 336.0 L1903.2 334.8 L1906.1 336.0 L1906.1 336.0Z" fill="#c693f7" stroke="#ffffff" stroke-width="0.9" stroke-opacity="0.75"/>
<path d="M1961.7 336.0 L1961.7 336.0 L1964.0 335.2 L1966.4 336.0 L1966.4 336.0Z" fill="#c693f7" stroke="#ffffff" stroke-width="0.9" stroke-opacity="0.75"/>
<path d="M2022.3 336.0 L2022.3 336.0 L2025.2 334.3 L2028.7 334.6 L2031.0 336.0 L2031.0 336.0Z" fill="#c693f7" stroke="#ffffff" stroke-width="0.9" stroke-opacity="0.75"/>
<path d="M2084.0 336.0 L2084.0 336.0 L2086.9 335.2 L2090.4 336.0 L2090.4 336.0Z" fill="#c693f7" stroke="#ffffff" stroke-width="0.9" stroke-opacity="0.75"/>
<path d="M2145.1 336.0 L2145.1 336.0 L2148.6 334.9 L2152.1 336.0 L2152.1 336.0Z" fill="#c693f7" stroke="#ffffff" stroke-width="0.9" stroke-opacity="0.75"/>
<path d="M2268.5 336.0 L2268.5 336.0 L2271.4 334.6 L2275.5 334.9 L2277.8 336.0 L2277.8 336.0Z" fill="#c693f7" stroke="#ffffff" stroke-width="0.9" stroke-opacity="0.75"/>
<path d="M2330.8 336.0 L2330.8 336.0 L2333.7 334.9 L2337.2 335.5 L2338.4 336.0 L2338.4 336.0Z" fill="#c693f7" stroke="#ffffff" stroke-width="0.9" stroke-opacity="0.75"/>
<path d="M2391.9 336.0 L2391.9 336.0 L2394.8 334.9 L2397.7 336.0 L2397.7 336.0Z" fill="#c693f7" stroke="#ffffff" stroke-width="0.9" stroke-opacity="0.75"/>
<path d="M2454.2 336.0 L2454.2 336.0 L2457.1 335.2 L2460.0 336.0 L2460.0 336.0Z" fill="#c693f7" stroke="#ffffff" stroke-width="0.9" stroke-opacity="0.75"/>
<path d="M190.3 336.0 L190.3 336.0 L193.5 333.4 L198.2 331.9 L201.7 329.6 L204.0 329.0 L206.3 330.2 L208.7 333.1 L210.4 336.0 L210.4 336.0Z" fill="#6fa2ee"/>
<path d="M261.6 336.0 L261.6 336.0 L265.7 334.7 L270.4 336.0 L270.4 336.0Z" fill="#6fa2ee"/>
<path d="M280.9 336.0 L280.9 336.0 L291.3 335.2 L298.3 336.0 L298.3 336.0Z" fill="#6fa2ee"/>
<path d="M393.0 336.0 L393.0 336.0 L395.3 334.3 L398.8 333.7 L401.7 334.6 L403.2 336.0 L403.2 336.0Z" fill="#6fa2ee"/>
<path d="M913.0 336.0 L913.0 336.0 L915.9 335.0 L919.4 335.0 L920.5 336.0 L920.5 336.0Z" fill="#6fa2ee"/>
<path d="M1167.7 336.0 L1167.7 336.0 L1170.6 334.9 L1183.4 334.8 L1185.8 336.0 L1185.8 336.0Z" fill="#6fa2ee"/>
<path d="M1220.7 336.0 L1220.7 336.0 L1223.0 335.2 L1227.7 335.2 L1228.9 336.0 L1228.9 336.0Z" fill="#6fa2ee"/>
<path d="M806.7 336.0 L806.7 336.0 L809.0 333.8 L811.9 333.0 L815.4 333.8 L818.3 334.6 L830.0 334.9 L847.4 334.7 L850.9 336.0 L850.9 336.0Z" fill="#8fb5f3"/>
<path d="M404.6 336.0 L404.6 336.0 L406.4 335.2 L409.3 335.4 L410.4 336.0 L410.4 336.0Z" fill="#8fd6a0"/>
<path d="M358.9 331.3 L362.4 327.8 L364.9 329.5" fill="none" stroke="#c4c4c4" stroke-width="1.1" stroke-opacity="0.75"/>
<path d="M491.7 330.2 L494.3 328.8 L497.3 330.6" fill="none" stroke="#c4c4c4" stroke-width="1.1" stroke-opacity="0.75"/>
<path d="M535.4 333.1 L538.5 331.6 L541.6 333.5" fill="none" stroke="#c4c4c4" stroke-width="1.1" stroke-opacity="0.75"/>
<path d="M649.5 332.8 L653.5 330.9 L657.6 332.8 L662.3 334.6 L665.2 335.5" fill="none" stroke="#c4c4c4" stroke-width="1.1" stroke-opacity="0.75"/>
<path d="M1029.4 331.1 L1035.2 328.2 L1039.3 326.2 L1042.2 327.0 L1044.6 329.9" fill="none" stroke="#c4c4c4" stroke-width="1.1" stroke-opacity="0.75"/>
<path d="M1062.6 332.8 L1066.1 330.5 L1070.2 331.1 L1073.1 332.8" fill="none" stroke="#c4c4c4" stroke-width="1.1" stroke-opacity="0.75"/>
<path d="M1098.7 332.3 L1101.6 330.5 L1105.1 332.0" fill="none" stroke="#c4c4c4" stroke-width="1.1" stroke-opacity="0.75"/>
<path d="M1115.0 332.0 L1119.1 330.2 L1123.2 331.7 L1128.4 333.7" fill="none" stroke="#c4c4c4" stroke-width="1.1" stroke-opacity="0.75"/>
<path d="M1785.0 332.3 L1788.5 330.5 L1792.5 332.0" fill="none" stroke="#c4c4c4" stroke-width="1.1" stroke-opacity="0.75"/>
<path d="M1811.7 333.4 L1814.7 332.0 L1817.6 333.7" fill="none" stroke="#c4c4c4" stroke-width="1.1" stroke-opacity="0.75"/>
<path d="M1924.7 332.8 L1931.7 331.7 L1936.4 331.1 L1939.8 332.0" fill="none" stroke="#c4c4c4" stroke-width="1.1" stroke-opacity="0.75"/>
<path d="M1960.3 325.5 L1962.5 322.0 L1964.6 321.3 L1966.6 323.9" fill="none" stroke="#c4c4c4" stroke-width="1.1" stroke-opacity="0.75"/>
<path d="M2023.4 330.5 L2025.7 328.2 L2028.7 328.8 L2030.4 331.1" fill="none" stroke="#c4c4c4" stroke-width="1.1" stroke-opacity="0.75"/>
<path d="M2075.8 329.9 L2079.3 328.2 L2082.2 328.8 L2084.0 330.5" fill="none" stroke="#c4c4c4" stroke-width="1.1" stroke-opacity="0.75"/>
<path d="M2137.0 334.3 L2141.6 332.8 L2145.1 330.5 L2147.4 328.2 L2149.8 328.2 L2152.1 330.5" fill="none" stroke="#c4c4c4" stroke-width="1.1" stroke-opacity="0.75"/>
<path d="M2189.9 328.2 L2192.9 326.2 L2194.6 327.0" fill="none" stroke="#c4c4c4" stroke-width="1.1" stroke-opacity="0.75"/>
<path d="M2208.6 332.3 L2210.9 330.5 L2213.2 331.7" fill="none" stroke="#c4c4c4" stroke-width="1.1" stroke-opacity="0.75"/></g>
<rect x="112" y="341.3" width="1379" height="7.4" fill="#7097dc"/>
<rect x="1512" y="341.3" width="45" height="7.4" fill="#7097dc"/>
<rect x="1655" y="341.3" width="120" height="7.4" fill="#7097dc"/>
<rect x="1780" y="341.3" width="39" height="7.4" fill="#7097dc"/>
<rect x="1875" y="341.3" width="60" height="7.4" fill="#7097dc"/>
<rect x="1959" y="341.3" width="78" height="7.4" fill="#7097dc"/>
<rect x="2112" y="341.3" width="70" height="7.4" fill="#7097dc"/>
<rect x="2189" y="341.3" width="33" height="7.4" fill="#7097dc"/>
<rect x="2418" y="341.3" width="31" height="7.4" fill="#7097dc"/>
<rect x="372" y="341.3" width="233.3" height="7.4" fill="#678ecd"/>
<rect x="199" y="350" width="37" height="7.4" fill="#9bb9ef"/>
<rect x="277" y="350" width="4" height="7.4" fill="#9bb9ef"/>
<rect x="283" y="350" width="3" height="7.4" fill="#9bb9ef"/>
<rect x="293" y="350" width="6" height="7.4" fill="#9bb9ef"/>
<rect x="304" y="350" width="4" height="7.4" fill="#9bb9ef"/>
<rect x="327" y="350" width="10" height="7.4" fill="#9bb9ef"/>
<rect x="397" y="350" width="10" height="7.4" fill="#9bb9ef"/>
<rect x="680" y="350" width="5" height="7.4" fill="#9bb9ef"/>
<rect x="810" y="350" width="6" height="7.4" fill="#9bb9ef"/>
<rect x="918.5" y="350" width="5.5" height="7.4" fill="#9bb9ef"/>
<rect x="1176" y="350" width="5" height="7.4" fill="#9bb9ef"/>
<rect x="112" y="251" width="2" height="108.2" fill="#4f5c7a"/>
<rect x="962" y="277" width="17" height="11" fill="#d2c5dd"/><rect x="974.7" y="277" width="4.3" height="11" fill="#d0505d"/>
<rect x="1657" y="277" width="73.5" height="11" fill="#d2c5dd"/><rect x="1675.8" y="277" width="4.3" height="11" fill="#d0505d"/><rect x="1726" y="277" width="4.5" height="11" fill="#d0505d"/>
<text x="2453.6" y="309.1" font-size="22" fill="#7d8aa8" text-anchor="start" font-weight="bold" font-style="normal" textLength="49.0" lengthAdjust="spacing">CPU</text>
<text x="2457" y="357.9" font-size="22" fill="#7d8aa8" text-anchor="start" font-weight="bold" font-style="normal" textLength="45.6" lengthAdjust="spacing">NET</text>
<rect x="1918" y="251" width="5" height="108" fill="#2250cb"/>
<rect x="368.0" y="291" width="4" height="68.2" fill="#a9c3f6"/>
<rect x="362.3" y="252.1" width="19.4" height="39.4" rx="6" fill="#d6e2fa" stroke="#a9c5f8" stroke-width="2.1"/>
<rect x="367.0" y="264" width="2.2" height="15" fill="#1a4fcf"/><rect x="374.0" y="264" width="2.2" height="15" fill="#1a4fcf"/>
<rect x="605.0" y="291" width="4" height="68.2" fill="#a9c3f6"/>
<rect x="595.3" y="252.1" width="19.4" height="39.4" rx="6" fill="#d6e2fa" stroke="#a9c5f8" stroke-width="2.1"/>
<rect x="600.0" y="264" width="2.2" height="15" fill="#1a4fcf"/><rect x="607.0" y="264" width="2.2" height="15" fill="#1a4fcf"/>
<rect x="262.2" y="362" width="1.6" height="33" fill="#f5f7fd"/>
<text x="149.8" y="386.6" font-size="23.8" fill="#1f1f1f" text-anchor="start" font-weight="normal" font-style="normal" textLength="103.7" lengthAdjust="spacing" stroke="#1f1f1f" stroke-width="0.3">1,196 ms</text>
<rect x="495.4" y="362" width="1.6" height="33" fill="#f5f7fd"/>
<text x="379.7" y="386.6" font-size="23.8" fill="#1f1f1f" text-anchor="start" font-weight="normal" font-style="normal" textLength="107.0" lengthAdjust="spacing" stroke="#1f1f1f" stroke-width="0.3">1,296 ms</text>
<rect x="728.5" y="362" width="1.6" height="33" fill="#f5f7fd"/>
<text x="612.8" y="386.6" font-size="23.8" fill="#1f1f1f" text-anchor="start" font-weight="normal" font-style="normal" textLength="107.0" lengthAdjust="spacing" stroke="#1f1f1f" stroke-width="0.3">1,396 ms</text>
<rect x="961.7" y="362" width="1.6" height="33" fill="#f5f7fd"/>
<text x="846.0" y="386.6" font-size="23.8" fill="#1f1f1f" text-anchor="start" font-weight="normal" font-style="normal" textLength="107.0" lengthAdjust="spacing" stroke="#1f1f1f" stroke-width="0.3">1,496 ms</text>
<rect x="1194.9" y="362" width="1.6" height="33" fill="#f5f7fd"/>
<text x="1079.2" y="386.6" font-size="23.8" fill="#1f1f1f" text-anchor="start" font-weight="normal" font-style="normal" textLength="107.0" lengthAdjust="spacing" stroke="#1f1f1f" stroke-width="0.3">1,596 ms</text>
<rect x="1428.0" y="362" width="1.6" height="33" fill="#f5f7fd"/>
<text x="1312.3" y="386.6" font-size="23.8" fill="#1f1f1f" text-anchor="start" font-weight="normal" font-style="normal" textLength="107.0" lengthAdjust="spacing" stroke="#1f1f1f" stroke-width="0.3">1,696 ms</text>
<rect x="1661.2" y="362" width="1.6" height="33" fill="#f5f7fd"/>
<text x="1545.5" y="386.6" font-size="23.8" fill="#1f1f1f" text-anchor="start" font-weight="normal" font-style="normal" textLength="107.0" lengthAdjust="spacing" stroke="#1f1f1f" stroke-width="0.3">1,796 ms</text>
<rect x="1894.4" y="362" width="1.6" height="33" fill="#f5f7fd"/>
<text x="1778.7" y="386.6" font-size="23.8" fill="#1f1f1f" text-anchor="start" font-weight="normal" font-style="normal" textLength="107.0" lengthAdjust="spacing" stroke="#1f1f1f" stroke-width="0.3">1,896 ms</text>
<rect x="2127.6" y="362" width="1.6" height="33" fill="#f5f7fd"/>
<text x="2011.9" y="386.6" font-size="23.8" fill="#1f1f1f" text-anchor="start" font-weight="normal" font-style="normal" textLength="107.0" lengthAdjust="spacing" stroke="#1f1f1f" stroke-width="0.3">1,996 ms</text>
<rect x="2360.7" y="362" width="1.6" height="33" fill="#f5f7fd"/>
<text x="2245.0" y="386.6" font-size="23.8" fill="#1f1f1f" text-anchor="start" font-weight="normal" font-style="normal" textLength="107.0" lengthAdjust="spacing" stroke="#1f1f1f" stroke-width="0.3">2,096 ms</text>
<text x="2481" y="386.6" font-size="23.8" fill="#1f1f1f" text-anchor="start" font-weight="normal" font-style="normal">2</text>
<rect x="2488.5" y="361" width="24" height="35" fill="#fff"/>
<rect x="2490.8" y="367.8" width="17.2" height="22.2" rx="8.6" fill="#bebebe"/>
<rect x="112" y="396.2" width="2400" height="2" fill="#d3e3fd"/>
<rect x="112" y="398.2" width="2400" height="14" fill="#f3f5fa"/>
<rect x="112" y="412.2" width="2400" height="1.9" fill="#d3e3fd"/>
<circle cx="1303" cy="406" r="2.4" fill="#1a1a1a"/>
<circle cx="1312" cy="406" r="2.4" fill="#1a1a1a"/>
<circle cx="1321" cy="406" r="2.4" fill="#1a1a1a"/>
<rect x="112" y="420.4" width="2376" height="2.3" fill="#f0f0f0"/>
<rect x="112" y="629.6" width="2376" height="2.3" fill="#f0f0f0"/>
<rect x="112" y="716" width="2400" height="2" fill="#d3e3fd"/>
<rect x="457.5" y="464.4" width="193.5" height="37.6" fill="#ecdbfc"/>
<rect x="396" y="464.4" width="2.2" height="37.6" fill="#f6c840"/>
<rect x="398.2" y="464.4" width="57.8" height="37.6" fill="#88d28f"/>
<rect x="455.6" y="464.4" width="2.0" height="37.6" fill="#51a252"/>
<rect x="528" y="464.4" width="2.2" height="37.6" fill="#d8675b"/>
<rect x="530.2" y="464.4" width="1.8" height="37.6" fill="#c692f7"/>
<rect x="570" y="464.4" width="2.2" height="37.6" fill="#c692f7"/>
<rect x="605" y="464.4" width="2.2" height="37.6" fill="#d8675b"/>
<rect x="607.2" y="464.4" width="6.3" height="37.6" fill="#c692f7"/>
<rect x="613.5" y="464.4" width="2.0" height="37.6" fill="#e3cbfb"/>
<rect x="615.5" y="464.4" width="22.5" height="37.6" fill="#c692f7"/>
<rect x="638" y="464.4" width="2.2" height="37.6" fill="#fff"/>
<rect x="640.2" y="464.4" width="2.3" height="37.6" fill="#aec6f4"/>
<rect x="642.5" y="464.4" width="2.0" height="37.6" fill="#ecdbfc"/>
<rect x="644.5" y="464.4" width="6.5" height="37.6" fill="#c692f7"/>
<rect x="827" y="464.4" width="1529.0" height="37.6" fill="#ecdbfc"/>
<rect x="827" y="464.4" width="2.0" height="37.6" fill="#aec6f4"/>
<rect x="2087.3" y="464.4" width="2.7" height="37.6" fill="#d8675b"/>
<rect x="2094" y="464.4" width="2.3" height="37.6" fill="#fff"/>
<rect x="2096.3" y="464.4" width="2.4" height="37.6" fill="#aec6f4"/>
<rect x="2149.1" y="464.4" width="2.6" height="37.6" fill="#d8675b"/>
<rect x="2151.7" y="464.4" width="4.2" height="37.6" fill="#c692f7"/>
<rect x="2349.5" y="464.4" width="2.5" height="37.6" fill="#d8675b"/>
<rect x="2352" y="464.4" width="1.6" height="37.6" fill="#ecdbfc"/>
<rect x="2353.6" y="464.4" width="2.4" height="37.6" fill="#c692f7"/>
<rect x="2387" y="464.4" width="2.2" height="37.6" fill="#aec6f4"/>
<rect x="827" y="506.3" width="4.5" height="37.6" fill="#aec6f4"/>
<rect x="2096.3" y="506.3" width="2.0" height="37.6" fill="#aec6f4"/>
<rect x="2098.3" y="506.3" width="2.7" height="37.6" fill="#ecdbfc"/>
<rect x="2149.1" y="506.3" width="11.2" height="37.6" fill="#aec6f4"/>
<rect x="2160.3" y="506.3" width="2.5" height="37.6" fill="#5b8df0"/>
<rect x="571.5" y="548.1" width="2.5" height="37.4" fill="#5b8df0"/>
<rect x="574" y="548.1" width="4.5" height="37.4" fill="#ecdbfc"/>
<rect x="637.5" y="548.1" width="4.5" height="37.4" fill="#5b8df0"/>
<rect x="831.5" y="548.1" width="1211.9" height="37.4" fill="#ecdbfc"/>
<rect x="831.5" y="548.1" width="2.5" height="37.4" fill="#5b8df0"/>
<rect x="1322" y="548.1" width="13.0" height="37.4" fill="#fff"/>
<rect x="1319.6" y="548.1" width="2.5" height="37.4" fill="#5b8df0"/>
<rect x="1335" y="548.1" width="2.5" height="37.4" fill="#5b8df0"/>
<rect x="2094" y="548.1" width="2.5" height="37.4" fill="#5b8df0"/>
<rect x="2096.5" y="548.1" width="2.3" height="37.4" fill="#c692f7"/>
<rect x="2162.3" y="548.1" width="2.3" height="37.4" fill="#5b8df0"/>
<rect x="2164.6" y="548.1" width="2.4" height="37.4" fill="#ecdbfc"/>
<rect x="461.5" y="590" width="2.1" height="37.4" fill="#c692f7"/>
<rect x="463.6" y="590" width="2.2" height="37.4" fill="#ecdbfc"/>
<rect x="465.8" y="590" width="2.7" height="37.4" fill="#51a252"/>
<rect x="468.5" y="590" width="11.5" height="37.4" fill="#c692f7"/>
<rect x="480" y="590" width="1.6" height="37.4" fill="#dcc0fa"/>
<rect x="481.6" y="590" width="2.4" height="37.4" fill="#c692f7"/>
<rect x="490.5" y="590" width="11.2" height="37.4" fill="#51a252"/>
<rect x="501.7" y="590" width="4.3" height="37.4" fill="#c692f7"/>
<rect x="506" y="590" width="10.6" height="37.4" fill="#ecdbfc"/>
<rect x="516.6" y="590" width="11.4" height="37.4" fill="#c692f7"/>
<rect x="580" y="590" width="5.0" height="37.4" fill="#51a252"/>
<rect x="585" y="590" width="2.0" height="37.4" fill="#c692f7"/>
<rect x="587" y="590" width="15.5" height="37.4" fill="#ecdbfc"/>
<rect x="602.5" y="590" width="2.5" height="37.4" fill="#c692f7"/>
<rect x="1322" y="590" width="2.2" height="37.4" fill="#51a252"/>
<rect x="1324.2" y="590" width="2.0" height="37.4" fill="#c692f7"/>
<rect x="1326.2" y="590" width="6.8" height="37.4" fill="#ecdbfc"/>
<rect x="2043.5" y="590" width="15.6" height="37.4" fill="#51a252"/>
<rect x="2059.1" y="590" width="11.0" height="37.4" fill="#c692f7"/>
<rect x="2070.1" y="590" width="8.8" height="37.4" fill="#ecdbfc"/>
<rect x="2078.9" y="590" width="8.5" height="37.4" fill="#c692f7"/>
<rect x="2101" y="590" width="22.0" height="37.4" fill="#51a252"/>
<rect x="2123" y="590" width="10.8" height="37.4" fill="#c692f7"/>
<rect x="2133.8" y="590" width="8.8" height="37.4" fill="#ecdbfc"/>
<rect x="2142.6" y="590" width="6.5" height="37.4" fill="#c692f7"/>
<rect x="2171.2" y="590" width="2.5" height="37.4" fill="#51a252"/>
<rect x="2173.7" y="590" width="1.8" height="37.4" fill="#ecdbfc"/>
<rect x="2175.5" y="590" width="2.2" height="37.4" fill="#c692f7"/>
<rect x="2177.7" y="590" width="2.3" height="37.4" fill="#51a252"/>
<rect x="2180" y="590" width="11.0" height="37.4" fill="#c692f7"/>
<rect x="2191" y="590" width="2.0" height="37.4" fill="#5b8df0"/>
<rect x="2193" y="590" width="13.3" height="37.4" fill="#c692f7"/>
<rect x="2206.3" y="590" width="19.8" height="37.4" fill="#ecdbfc"/>
<rect x="2226.1" y="590" width="11.0" height="37.4" fill="#c692f7"/>
<rect x="2237.1" y="590" width="19.9" height="37.4" fill="#51a252"/>
<rect x="2257" y="590" width="15.5" height="37.4" fill="#c692f7"/>
<rect x="2272.5" y="590" width="4.3" height="37.4" fill="#ecdbfc"/>
<rect x="2276.8" y="590" width="4.5" height="37.4" fill="#c692f7"/>
<rect x="2281.3" y="590" width="2.0" height="37.4" fill="#ecdbfc"/>
<rect x="2283.3" y="590" width="39.9" height="37.4" fill="#51a252"/>
<rect x="2323.2" y="590" width="2.0" height="37.4" fill="#c692f7"/>
<rect x="2325.2" y="590" width="10.8" height="37.4" fill="#ecdbfc"/>
<rect x="2336" y="590" width="13.5" height="37.4" fill="#c692f7"/>
<rect x="2358" y="590" width="4.5" height="37.4" fill="#51a252"/>
<rect x="2362.5" y="590" width="2.0" height="37.4" fill="#c692f7"/>
<rect x="2364.5" y="590" width="7.0" height="37.4" fill="#ecdbfc"/>
<rect x="2373.5" y="590" width="9.0" height="37.4" fill="#51a252"/>
<rect x="2382.5" y="590" width="2.0" height="37.4" fill="#ecdbfc"/>
<rect x="2384.5" y="590" width="2.0" height="37.4" fill="#c692f7"/>
<rect x="2386.5" y="590" width="2.5" height="37.4" fill="#ecdbfc"/>
<rect x="2389" y="590" width="2.2" height="37.4" fill="#5b8df0"/>
<rect x="262.0" y="415" width="2" height="299.5" fill="#4f78e0" fill-opacity="0.15"/>
<rect x="495.2" y="415" width="2" height="299.5" fill="#4f78e0" fill-opacity="0.15"/>
<rect x="728.3" y="415" width="2" height="299.5" fill="#4f78e0" fill-opacity="0.15"/>
<rect x="961.5" y="415" width="2" height="299.5" fill="#4f78e0" fill-opacity="0.15"/>
<rect x="1194.7" y="415" width="2" height="299.5" fill="#4f78e0" fill-opacity="0.15"/>
<rect x="1427.8" y="415" width="2" height="299.5" fill="#4f78e0" fill-opacity="0.15"/>
<rect x="1661.0" y="415" width="2" height="299.5" fill="#4f78e0" fill-opacity="0.15"/>
<rect x="1894.2" y="415" width="2" height="299.5" fill="#4f78e0" fill-opacity="0.15"/>
<rect x="2127.4" y="415" width="2" height="299.5" fill="#4f78e0" fill-opacity="0.15"/>
<rect x="2360.5" y="415" width="2" height="299.5" fill="#4f78e0" fill-opacity="0.15"/>
<path d="M126 438.6 H142.2 L134.1 453 Z" fill="#6f6f6f"/>
<text x="149.5" y="454" font-size="23.7" fill="#1f1f1f" text-anchor="start" font-weight="normal" font-style="normal" textLength="116.5" lengthAdjust="spacing" stroke="#1f1f1f" stroke-width="0.3">Scheduler</text>
<g fill="none" stroke="#2a2a2a" stroke-width="0.95"><ellipse cx="280" cy="447" rx="7.2" ry="2.7" transform="rotate(90 280 447)"/><ellipse cx="280" cy="447" rx="7.2" ry="2.7" transform="rotate(30 280 447)"/><ellipse cx="280" cy="447" rx="7.2" ry="2.7" transform="rotate(150 280 447)"/></g><circle cx="280" cy="447" r="1.3" fill="#2a2a2a"/>
<rect x="300.5" y="443.2" width="21.5" height="1.9" fill="#1f1f1f"/>
<text x="329.5" y="450.5" font-size="23.2" fill="#1f1f1f" text-anchor="start" font-weight="normal" font-style="italic" textLength="81.0" lengthAdjust="spacing">Custom</text>
<path d="M149.6 473.8 V490.8 L164.2 482.3 Z" fill="#6f6f6f"/>
<text x="171.5" y="491" font-size="23.7" fill="#1f1f1f" text-anchor="start" font-weight="normal" font-style="normal" textLength="99.0" lengthAdjust="spacing" stroke="#1f1f1f" stroke-width="0.3">Blocking</text>
<path d="M149.6 515.8 V532.8 L164.2 524.3 Z" fill="#6f6f6f"/>
<text x="171.5" y="533" font-size="23.7" fill="#1f1f1f" text-anchor="start" font-weight="normal" font-style="normal" textLength="113.5" lengthAdjust="spacing" stroke="#1f1f1f" stroke-width="0.3">Transition</text>
<path d="M149.6 557.4 V574.4 L164.2 565.9 Z" fill="#6f6f6f"/>
<text x="171.5" y="574.6" font-size="23.7" fill="#1f1f1f" text-anchor="start" font-weight="normal" font-style="normal" textLength="112.5" lengthAdjust="spacing" stroke="#1f1f1f" stroke-width="0.3">Suspense</text>
<path d="M149.6 598.4 V615.4 L164.2 606.9 Z" fill="#6f6f6f"/>
<text x="171.5" y="615.6" font-size="23.7" fill="#1f1f1f" text-anchor="start" font-weight="normal" font-style="normal" textLength="42.0" lengthAdjust="spacing" stroke="#1f1f1f" stroke-width="0.3">Idle</text>
</g></svg></body></html>
